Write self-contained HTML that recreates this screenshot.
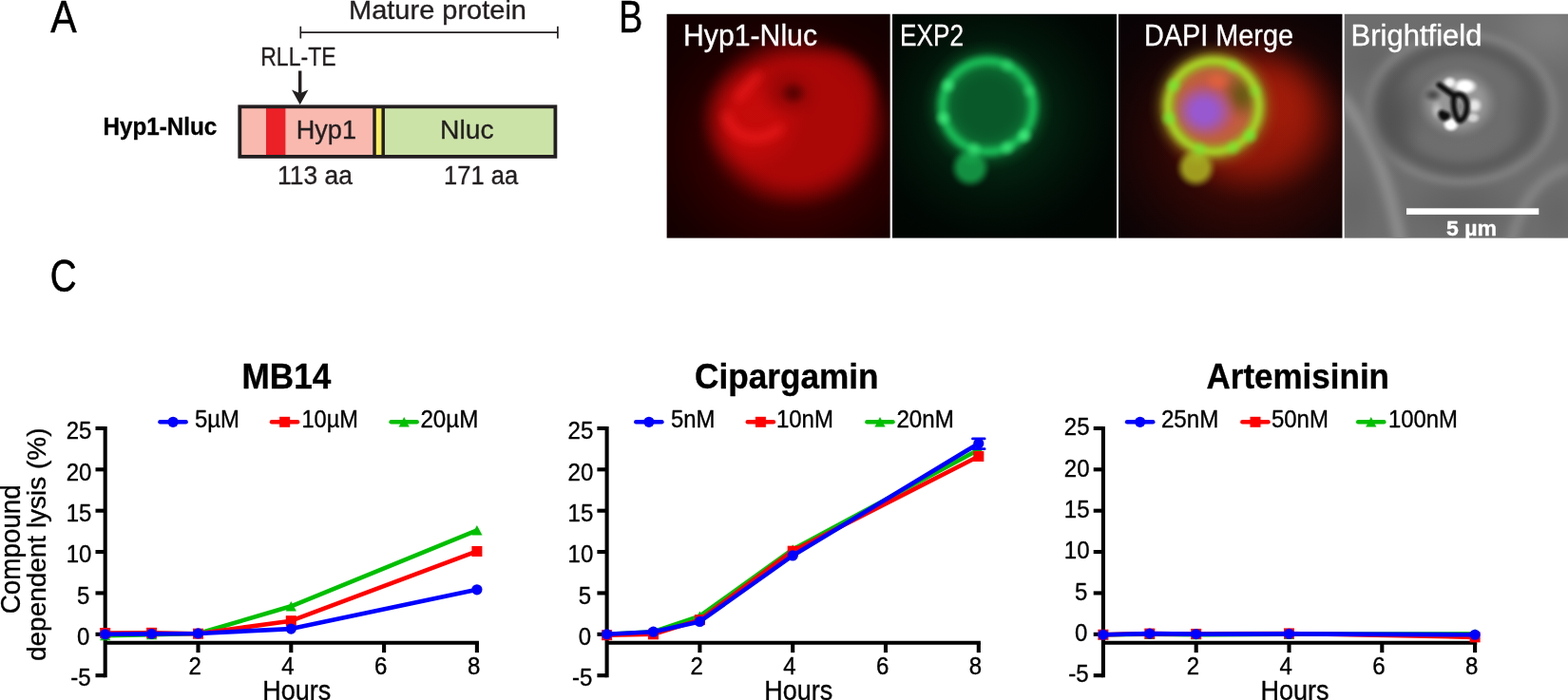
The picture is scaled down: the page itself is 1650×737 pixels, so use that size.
<!DOCTYPE html>
<html lang="en">
<head>
<meta charset="utf-8">
<title>Hyp1-Nluc lysis assay figure</title>
<style>
html,body{margin:0;padding:0;background:#fff;}
body{width:1650px;height:737px;overflow:hidden;}
svg{display:block;font-family:"Liberation Sans", sans-serif;}
text{white-space:pre;}
</style>
</head>
<body>
<svg width="1650" height="737" viewBox="0 0 1650 737">
<defs>
<filter id="b3" x="-50%" y="-50%" width="200%" height="200%"><feGaussianBlur stdDeviation="3"/></filter>
<filter id="b2" x="-50%" y="-50%" width="200%" height="200%"><feGaussianBlur stdDeviation="2"/></filter>
<filter id="b15" x="-50%" y="-50%" width="200%" height="200%"><feGaussianBlur stdDeviation="1.5"/></filter>
<filter id="b1" x="-50%" y="-50%" width="200%" height="200%"><feGaussianBlur stdDeviation="1.2"/></filter>
<filter id="b5" x="-50%" y="-50%" width="200%" height="200%"><feGaussianBlur stdDeviation="5"/></filter>
<filter id="b8" x="-50%" y="-50%" width="200%" height="200%"><feGaussianBlur stdDeviation="8"/></filter>
<filter id="b12" x="-50%" y="-50%" width="200%" height="200%"><feGaussianBlur stdDeviation="12"/></filter>
<filter id="b18" x="-50%" y="-50%" width="200%" height="200%"><feGaussianBlur stdDeviation="18"/></filter>
<clipPath id="cp0"><rect x="701.4" y="14.6" width="235.39999999999998" height="236.20000000000002"/></clipPath>
<clipPath id="cp1"><rect x="939.0" y="14.6" width="236.0" height="236.20000000000002"/></clipPath>
<clipPath id="cp2"><rect x="1177.0" y="14.6" width="235.70000000000005" height="236.20000000000002"/></clipPath>
<clipPath id="cp3"><rect x="1414.5" y="14.6" width="235.5" height="236.20000000000002"/></clipPath>
<radialGradient id="g1" gradientUnits="userSpaceOnUse" cx="0" cy="0" r="1" gradientTransform="translate(834 152) scale(180 165)"><stop offset="0.000" stop-color="rgb(120,0,0)" stop-opacity="0.580"/><stop offset="0.083" stop-color="rgb(120,0,0)" stop-opacity="0.569"/><stop offset="0.167" stop-color="rgb(120,0,0)" stop-opacity="0.537"/><stop offset="0.250" stop-color="rgb(120,0,0)" stop-opacity="0.489"/><stop offset="0.333" stop-color="rgb(120,0,0)" stop-opacity="0.430"/><stop offset="0.417" stop-color="rgb(120,0,0)" stop-opacity="0.362"/><stop offset="0.500" stop-color="rgb(120,0,0)" stop-opacity="0.290"/><stop offset="0.583" stop-color="rgb(120,0,0)" stop-opacity="0.218"/><stop offset="0.667" stop-color="rgb(120,0,0)" stop-opacity="0.150"/><stop offset="0.750" stop-color="rgb(120,0,0)" stop-opacity="0.091"/><stop offset="0.833" stop-color="rgb(120,0,0)" stop-opacity="0.043"/><stop offset="0.917" stop-color="rgb(120,0,0)" stop-opacity="0.011"/><stop offset="1.000" stop-color="rgb(120,0,0)" stop-opacity="0.000"/></radialGradient>
<radialGradient id="g2" gradientUnits="userSpaceOnUse" cx="0" cy="0" r="1" gradientTransform="translate(837 128) scale(106 99)"><stop offset="0.000" stop-color="rgb(170,7,7)" stop-opacity="1.000"/><stop offset="0.580" stop-color="rgb(170,7,7)" stop-opacity="1.000"/><stop offset="0.615" stop-color="rgb(170,7,7)" stop-opacity="0.980"/><stop offset="0.650" stop-color="rgb(170,7,7)" stop-opacity="0.926"/><stop offset="0.685" stop-color="rgb(170,7,7)" stop-opacity="0.844"/><stop offset="0.720" stop-color="rgb(170,7,7)" stop-opacity="0.741"/><stop offset="0.755" stop-color="rgb(170,7,7)" stop-opacity="0.624"/><stop offset="0.790" stop-color="rgb(170,7,7)" stop-opacity="0.500"/><stop offset="0.825" stop-color="rgb(170,7,7)" stop-opacity="0.376"/><stop offset="0.860" stop-color="rgb(170,7,7)" stop-opacity="0.259"/><stop offset="0.895" stop-color="rgb(170,7,7)" stop-opacity="0.156"/><stop offset="0.930" stop-color="rgb(170,7,7)" stop-opacity="0.074"/><stop offset="0.965" stop-color="rgb(170,7,7)" stop-opacity="0.020"/><stop offset="1.000" stop-color="rgb(170,7,7)" stop-opacity="0.000"/></radialGradient>
<radialGradient id="g3" gradientUnits="userSpaceOnUse" cx="0" cy="0" r="1" gradientTransform="translate(876 97) scale(55 55)"><stop offset="0.000" stop-color="rgb(170,7,7)" stop-opacity="0.800"/><stop offset="0.450" stop-color="rgb(170,7,7)" stop-opacity="0.800"/><stop offset="0.496" stop-color="rgb(170,7,7)" stop-opacity="0.784"/><stop offset="0.542" stop-color="rgb(170,7,7)" stop-opacity="0.741"/><stop offset="0.588" stop-color="rgb(170,7,7)" stop-opacity="0.675"/><stop offset="0.633" stop-color="rgb(170,7,7)" stop-opacity="0.593"/><stop offset="0.679" stop-color="rgb(170,7,7)" stop-opacity="0.499"/><stop offset="0.725" stop-color="rgb(170,7,7)" stop-opacity="0.400"/><stop offset="0.771" stop-color="rgb(170,7,7)" stop-opacity="0.301"/><stop offset="0.817" stop-color="rgb(170,7,7)" stop-opacity="0.207"/><stop offset="0.863" stop-color="rgb(170,7,7)" stop-opacity="0.125"/><stop offset="0.908" stop-color="rgb(170,7,7)" stop-opacity="0.059"/><stop offset="0.954" stop-color="rgb(170,7,7)" stop-opacity="0.016"/><stop offset="1.000" stop-color="rgb(170,7,7)" stop-opacity="0.000"/></radialGradient>
<radialGradient id="g4" gradientUnits="userSpaceOnUse" cx="0" cy="0" r="1" gradientTransform="translate(792 124) scale(62 64)"><stop offset="0.000" stop-color="rgb(225,14,14)" stop-opacity="0.500"/><stop offset="0.300" stop-color="rgb(225,14,14)" stop-opacity="0.500"/><stop offset="0.358" stop-color="rgb(225,14,14)" stop-opacity="0.490"/><stop offset="0.417" stop-color="rgb(225,14,14)" stop-opacity="0.463"/><stop offset="0.475" stop-color="rgb(225,14,14)" stop-opacity="0.422"/><stop offset="0.533" stop-color="rgb(225,14,14)" stop-opacity="0.370"/><stop offset="0.592" stop-color="rgb(225,14,14)" stop-opacity="0.312"/><stop offset="0.650" stop-color="rgb(225,14,14)" stop-opacity="0.250"/><stop offset="0.708" stop-color="rgb(225,14,14)" stop-opacity="0.188"/><stop offset="0.767" stop-color="rgb(225,14,14)" stop-opacity="0.130"/><stop offset="0.825" stop-color="rgb(225,14,14)" stop-opacity="0.078"/><stop offset="0.883" stop-color="rgb(225,14,14)" stop-opacity="0.037"/><stop offset="0.942" stop-color="rgb(225,14,14)" stop-opacity="0.010"/><stop offset="1.000" stop-color="rgb(225,14,14)" stop-opacity="0.000"/></radialGradient>
<radialGradient id="g5" gradientUnits="userSpaceOnUse" cx="0" cy="0" r="1" gradientTransform="translate(829 98) scale(38 32)"><stop offset="0.000" stop-color="rgb(120,2,2)" stop-opacity="0.600"/><stop offset="0.083" stop-color="rgb(120,2,2)" stop-opacity="0.588"/><stop offset="0.167" stop-color="rgb(120,2,2)" stop-opacity="0.556"/><stop offset="0.250" stop-color="rgb(120,2,2)" stop-opacity="0.506"/><stop offset="0.333" stop-color="rgb(120,2,2)" stop-opacity="0.444"/><stop offset="0.417" stop-color="rgb(120,2,2)" stop-opacity="0.374"/><stop offset="0.500" stop-color="rgb(120,2,2)" stop-opacity="0.300"/><stop offset="0.583" stop-color="rgb(120,2,2)" stop-opacity="0.226"/><stop offset="0.667" stop-color="rgb(120,2,2)" stop-opacity="0.156"/><stop offset="0.750" stop-color="rgb(120,2,2)" stop-opacity="0.094"/><stop offset="0.833" stop-color="rgb(120,2,2)" stop-opacity="0.044"/><stop offset="0.917" stop-color="rgb(120,2,2)" stop-opacity="0.012"/><stop offset="1.000" stop-color="rgb(120,2,2)" stop-opacity="0.000"/></radialGradient>
<radialGradient id="g6" gradientUnits="userSpaceOnUse" cx="0" cy="0" r="1" gradientTransform="translate(835 98) scale(17 15)"><stop offset="0.000" stop-color="rgb(60,0,0)" stop-opacity="0.620"/><stop offset="0.083" stop-color="rgb(60,0,0)" stop-opacity="0.608"/><stop offset="0.167" stop-color="rgb(60,0,0)" stop-opacity="0.574"/><stop offset="0.250" stop-color="rgb(60,0,0)" stop-opacity="0.523"/><stop offset="0.333" stop-color="rgb(60,0,0)" stop-opacity="0.459"/><stop offset="0.417" stop-color="rgb(60,0,0)" stop-opacity="0.387"/><stop offset="0.500" stop-color="rgb(60,0,0)" stop-opacity="0.310"/><stop offset="0.583" stop-color="rgb(60,0,0)" stop-opacity="0.233"/><stop offset="0.667" stop-color="rgb(60,0,0)" stop-opacity="0.161"/><stop offset="0.750" stop-color="rgb(60,0,0)" stop-opacity="0.097"/><stop offset="0.833" stop-color="rgb(60,0,0)" stop-opacity="0.046"/><stop offset="0.917" stop-color="rgb(60,0,0)" stop-opacity="0.012"/><stop offset="1.000" stop-color="rgb(60,0,0)" stop-opacity="0.000"/></radialGradient>
<radialGradient id="g7" gradientUnits="userSpaceOnUse" cx="0" cy="0" r="1" gradientTransform="translate(1046 120) scale(150 150)"><stop offset="0.000" stop-color="rgb(5,62,28)" stop-opacity="0.700"/><stop offset="0.083" stop-color="rgb(5,62,28)" stop-opacity="0.686"/><stop offset="0.167" stop-color="rgb(5,62,28)" stop-opacity="0.648"/><stop offset="0.250" stop-color="rgb(5,62,28)" stop-opacity="0.591"/><stop offset="0.333" stop-color="rgb(5,62,28)" stop-opacity="0.519"/><stop offset="0.417" stop-color="rgb(5,62,28)" stop-opacity="0.437"/><stop offset="0.500" stop-color="rgb(5,62,28)" stop-opacity="0.350"/><stop offset="0.583" stop-color="rgb(5,62,28)" stop-opacity="0.263"/><stop offset="0.667" stop-color="rgb(5,62,28)" stop-opacity="0.181"/><stop offset="0.750" stop-color="rgb(5,62,28)" stop-opacity="0.109"/><stop offset="0.833" stop-color="rgb(5,62,28)" stop-opacity="0.052"/><stop offset="0.917" stop-color="rgb(5,62,28)" stop-opacity="0.014"/><stop offset="1.000" stop-color="rgb(5,62,28)" stop-opacity="0.000"/></radialGradient>
<radialGradient id="g8" gradientUnits="userSpaceOnUse" cx="0" cy="0" r="1" gradientTransform="translate(1039.5 111.8) scale(58 58)"><stop offset="0.000" stop-color="rgb(9,88,41)" stop-opacity="1.000"/><stop offset="0.700" stop-color="rgb(9,88,41)" stop-opacity="1.000"/><stop offset="0.725" stop-color="rgb(9,88,41)" stop-opacity="0.980"/><stop offset="0.750" stop-color="rgb(9,88,41)" stop-opacity="0.926"/><stop offset="0.775" stop-color="rgb(9,88,41)" stop-opacity="0.844"/><stop offset="0.800" stop-color="rgb(9,88,41)" stop-opacity="0.741"/><stop offset="0.825" stop-color="rgb(9,88,41)" stop-opacity="0.624"/><stop offset="0.850" stop-color="rgb(9,88,41)" stop-opacity="0.500"/><stop offset="0.875" stop-color="rgb(9,88,41)" stop-opacity="0.376"/><stop offset="0.900" stop-color="rgb(9,88,41)" stop-opacity="0.259"/><stop offset="0.925" stop-color="rgb(9,88,41)" stop-opacity="0.156"/><stop offset="0.950" stop-color="rgb(9,88,41)" stop-opacity="0.074"/><stop offset="0.975" stop-color="rgb(9,88,41)" stop-opacity="0.020"/><stop offset="1.000" stop-color="rgb(9,88,41)" stop-opacity="0.000"/></radialGradient>
<radialGradient id="g9" gradientUnits="userSpaceOnUse" cx="0" cy="0" r="1" gradientTransform="translate(1021 176.5) scale(23 23)"><stop offset="0.000" stop-color="rgb(20,150,68)" stop-opacity="0.950"/><stop offset="0.450" stop-color="rgb(20,150,68)" stop-opacity="0.950"/><stop offset="0.496" stop-color="rgb(20,150,68)" stop-opacity="0.931"/><stop offset="0.542" stop-color="rgb(20,150,68)" stop-opacity="0.880"/><stop offset="0.588" stop-color="rgb(20,150,68)" stop-opacity="0.802"/><stop offset="0.633" stop-color="rgb(20,150,68)" stop-opacity="0.704"/><stop offset="0.679" stop-color="rgb(20,150,68)" stop-opacity="0.593"/><stop offset="0.725" stop-color="rgb(20,150,68)" stop-opacity="0.475"/><stop offset="0.771" stop-color="rgb(20,150,68)" stop-opacity="0.357"/><stop offset="0.817" stop-color="rgb(20,150,68)" stop-opacity="0.246"/><stop offset="0.863" stop-color="rgb(20,150,68)" stop-opacity="0.148"/><stop offset="0.908" stop-color="rgb(20,150,68)" stop-opacity="0.070"/><stop offset="0.954" stop-color="rgb(20,150,68)" stop-opacity="0.019"/><stop offset="1.000" stop-color="rgb(20,150,68)" stop-opacity="0.000"/></radialGradient>
<radialGradient id="g10" gradientUnits="userSpaceOnUse" cx="0" cy="0" r="1" gradientTransform="translate(1039.5 111.8) scale(80 80)"><stop offset="0.000" stop-color="rgb(16,140,62)" stop-opacity="0.000"/><stop offset="0.318" stop-color="rgb(16,140,62)" stop-opacity="0.000"/><stop offset="0.345" stop-color="rgb(16,140,62)" stop-opacity="0.036"/><stop offset="0.373" stop-color="rgb(16,140,62)" stop-opacity="0.063"/><stop offset="0.400" stop-color="rgb(16,140,62)" stop-opacity="0.105"/><stop offset="0.428" stop-color="rgb(16,140,62)" stop-opacity="0.163"/><stop offset="0.456" stop-color="rgb(16,140,62)" stop-opacity="0.236"/><stop offset="0.483" stop-color="rgb(16,140,62)" stop-opacity="0.320"/><stop offset="0.511" stop-color="rgb(16,140,62)" stop-opacity="0.406"/><stop offset="0.538" stop-color="rgb(16,140,62)" stop-opacity="0.480"/><stop offset="0.566" stop-color="rgb(16,140,62)" stop-opacity="0.532"/><stop offset="0.594" stop-color="rgb(16,140,62)" stop-opacity="0.550"/><stop offset="0.621" stop-color="rgb(16,140,62)" stop-opacity="0.532"/><stop offset="0.649" stop-color="rgb(16,140,62)" stop-opacity="0.480"/><stop offset="0.677" stop-color="rgb(16,140,62)" stop-opacity="0.406"/><stop offset="0.704" stop-color="rgb(16,140,62)" stop-opacity="0.320"/><stop offset="0.732" stop-color="rgb(16,140,62)" stop-opacity="0.236"/><stop offset="0.760" stop-color="rgb(16,140,62)" stop-opacity="0.163"/><stop offset="0.787" stop-color="rgb(16,140,62)" stop-opacity="0.105"/><stop offset="0.815" stop-color="rgb(16,140,62)" stop-opacity="0.063"/><stop offset="0.842" stop-color="rgb(16,140,62)" stop-opacity="0.036"/><stop offset="0.870" stop-color="rgb(16,140,62)" stop-opacity="0.000"/></radialGradient>
<radialGradient id="g11" gradientUnits="userSpaceOnUse" cx="0" cy="0" r="1" gradientTransform="translate(1022 165) scale(15 13)"><stop offset="0.000" stop-color="rgb(22,165,75)" stop-opacity="0.800"/><stop offset="0.083" stop-color="rgb(22,165,75)" stop-opacity="0.784"/><stop offset="0.167" stop-color="rgb(22,165,75)" stop-opacity="0.741"/><stop offset="0.250" stop-color="rgb(22,165,75)" stop-opacity="0.675"/><stop offset="0.333" stop-color="rgb(22,165,75)" stop-opacity="0.593"/><stop offset="0.417" stop-color="rgb(22,165,75)" stop-opacity="0.499"/><stop offset="0.500" stop-color="rgb(22,165,75)" stop-opacity="0.400"/><stop offset="0.583" stop-color="rgb(22,165,75)" stop-opacity="0.301"/><stop offset="0.667" stop-color="rgb(22,165,75)" stop-opacity="0.207"/><stop offset="0.750" stop-color="rgb(22,165,75)" stop-opacity="0.125"/><stop offset="0.833" stop-color="rgb(22,165,75)" stop-opacity="0.059"/><stop offset="0.917" stop-color="rgb(22,165,75)" stop-opacity="0.016"/><stop offset="1.000" stop-color="rgb(22,165,75)" stop-opacity="0.000"/></radialGradient>
<radialGradient id="g12" gradientUnits="userSpaceOnUse" cx="0" cy="0" r="1" gradientTransform="translate(1039.5 111.8) scale(70 70)"><stop offset="0.000" stop-color="rgb(24,178,82)" stop-opacity="0.000"/><stop offset="0.530" stop-color="rgb(24,178,82)" stop-opacity="0.000"/><stop offset="0.545" stop-color="rgb(24,178,82)" stop-opacity="0.065"/><stop offset="0.560" stop-color="rgb(24,178,82)" stop-opacity="0.115"/><stop offset="0.575" stop-color="rgb(24,178,82)" stop-opacity="0.191"/><stop offset="0.589" stop-color="rgb(24,178,82)" stop-opacity="0.296"/><stop offset="0.604" stop-color="rgb(24,178,82)" stop-opacity="0.430"/><stop offset="0.619" stop-color="rgb(24,178,82)" stop-opacity="0.582"/><stop offset="0.634" stop-color="rgb(24,178,82)" stop-opacity="0.738"/><stop offset="0.649" stop-color="rgb(24,178,82)" stop-opacity="0.874"/><stop offset="0.664" stop-color="rgb(24,178,82)" stop-opacity="0.967"/><stop offset="0.679" stop-color="rgb(24,178,82)" stop-opacity="1.000"/><stop offset="0.693" stop-color="rgb(24,178,82)" stop-opacity="0.967"/><stop offset="0.708" stop-color="rgb(24,178,82)" stop-opacity="0.874"/><stop offset="0.723" stop-color="rgb(24,178,82)" stop-opacity="0.738"/><stop offset="0.738" stop-color="rgb(24,178,82)" stop-opacity="0.582"/><stop offset="0.753" stop-color="rgb(24,178,82)" stop-opacity="0.430"/><stop offset="0.768" stop-color="rgb(24,178,82)" stop-opacity="0.296"/><stop offset="0.783" stop-color="rgb(24,178,82)" stop-opacity="0.191"/><stop offset="0.797" stop-color="rgb(24,178,82)" stop-opacity="0.115"/><stop offset="0.812" stop-color="rgb(24,178,82)" stop-opacity="0.065"/><stop offset="0.827" stop-color="rgb(24,178,82)" stop-opacity="0.000"/></radialGradient>
<radialGradient id="g13" gradientUnits="userSpaceOnUse" cx="0" cy="0" r="1" gradientTransform="translate(997.5 90) scale(11 11)"><stop offset="0.000" stop-color="rgb(70,245,130)" stop-opacity="0.650"/><stop offset="0.083" stop-color="rgb(70,245,130)" stop-opacity="0.637"/><stop offset="0.167" stop-color="rgb(70,245,130)" stop-opacity="0.602"/><stop offset="0.250" stop-color="rgb(70,245,130)" stop-opacity="0.548"/><stop offset="0.333" stop-color="rgb(70,245,130)" stop-opacity="0.481"/><stop offset="0.417" stop-color="rgb(70,245,130)" stop-opacity="0.405"/><stop offset="0.500" stop-color="rgb(70,245,130)" stop-opacity="0.325"/><stop offset="0.583" stop-color="rgb(70,245,130)" stop-opacity="0.245"/><stop offset="0.667" stop-color="rgb(70,245,130)" stop-opacity="0.169"/><stop offset="0.750" stop-color="rgb(70,245,130)" stop-opacity="0.102"/><stop offset="0.833" stop-color="rgb(70,245,130)" stop-opacity="0.048"/><stop offset="0.917" stop-color="rgb(70,245,130)" stop-opacity="0.013"/><stop offset="1.000" stop-color="rgb(70,245,130)" stop-opacity="0.000"/></radialGradient>
<radialGradient id="g14" gradientUnits="userSpaceOnUse" cx="0" cy="0" r="1" gradientTransform="translate(992.5 124.5) scale(11 11)"><stop offset="0.000" stop-color="rgb(70,245,130)" stop-opacity="0.650"/><stop offset="0.083" stop-color="rgb(70,245,130)" stop-opacity="0.637"/><stop offset="0.167" stop-color="rgb(70,245,130)" stop-opacity="0.602"/><stop offset="0.250" stop-color="rgb(70,245,130)" stop-opacity="0.548"/><stop offset="0.333" stop-color="rgb(70,245,130)" stop-opacity="0.481"/><stop offset="0.417" stop-color="rgb(70,245,130)" stop-opacity="0.405"/><stop offset="0.500" stop-color="rgb(70,245,130)" stop-opacity="0.325"/><stop offset="0.583" stop-color="rgb(70,245,130)" stop-opacity="0.245"/><stop offset="0.667" stop-color="rgb(70,245,130)" stop-opacity="0.169"/><stop offset="0.750" stop-color="rgb(70,245,130)" stop-opacity="0.102"/><stop offset="0.833" stop-color="rgb(70,245,130)" stop-opacity="0.048"/><stop offset="0.917" stop-color="rgb(70,245,130)" stop-opacity="0.013"/><stop offset="1.000" stop-color="rgb(70,245,130)" stop-opacity="0.000"/></radialGradient>
<radialGradient id="g15" gradientUnits="userSpaceOnUse" cx="0" cy="0" r="1" gradientTransform="translate(1078 143) scale(11 11)"><stop offset="0.000" stop-color="rgb(70,245,130)" stop-opacity="0.750"/><stop offset="0.083" stop-color="rgb(70,245,130)" stop-opacity="0.735"/><stop offset="0.167" stop-color="rgb(70,245,130)" stop-opacity="0.694"/><stop offset="0.250" stop-color="rgb(70,245,130)" stop-opacity="0.633"/><stop offset="0.333" stop-color="rgb(70,245,130)" stop-opacity="0.556"/><stop offset="0.417" stop-color="rgb(70,245,130)" stop-opacity="0.468"/><stop offset="0.500" stop-color="rgb(70,245,130)" stop-opacity="0.375"/><stop offset="0.583" stop-color="rgb(70,245,130)" stop-opacity="0.282"/><stop offset="0.667" stop-color="rgb(70,245,130)" stop-opacity="0.194"/><stop offset="0.750" stop-color="rgb(70,245,130)" stop-opacity="0.117"/><stop offset="0.833" stop-color="rgb(70,245,130)" stop-opacity="0.056"/><stop offset="0.917" stop-color="rgb(70,245,130)" stop-opacity="0.015"/><stop offset="1.000" stop-color="rgb(70,245,130)" stop-opacity="0.000"/></radialGradient>
<radialGradient id="g16" gradientUnits="userSpaceOnUse" cx="0" cy="0" r="1" gradientTransform="translate(1060 155.5) scale(11 11)"><stop offset="0.000" stop-color="rgb(70,245,130)" stop-opacity="0.550"/><stop offset="0.083" stop-color="rgb(70,245,130)" stop-opacity="0.539"/><stop offset="0.167" stop-color="rgb(70,245,130)" stop-opacity="0.509"/><stop offset="0.250" stop-color="rgb(70,245,130)" stop-opacity="0.464"/><stop offset="0.333" stop-color="rgb(70,245,130)" stop-opacity="0.407"/><stop offset="0.417" stop-color="rgb(70,245,130)" stop-opacity="0.343"/><stop offset="0.500" stop-color="rgb(70,245,130)" stop-opacity="0.275"/><stop offset="0.583" stop-color="rgb(70,245,130)" stop-opacity="0.207"/><stop offset="0.667" stop-color="rgb(70,245,130)" stop-opacity="0.143"/><stop offset="0.750" stop-color="rgb(70,245,130)" stop-opacity="0.086"/><stop offset="0.833" stop-color="rgb(70,245,130)" stop-opacity="0.041"/><stop offset="0.917" stop-color="rgb(70,245,130)" stop-opacity="0.011"/><stop offset="1.000" stop-color="rgb(70,245,130)" stop-opacity="0.000"/></radialGradient>
<radialGradient id="g17" gradientUnits="userSpaceOnUse" cx="0" cy="0" r="1" gradientTransform="translate(1025 157) scale(11 11)"><stop offset="0.000" stop-color="rgb(70,245,130)" stop-opacity="0.500"/><stop offset="0.083" stop-color="rgb(70,245,130)" stop-opacity="0.490"/><stop offset="0.167" stop-color="rgb(70,245,130)" stop-opacity="0.463"/><stop offset="0.250" stop-color="rgb(70,245,130)" stop-opacity="0.422"/><stop offset="0.333" stop-color="rgb(70,245,130)" stop-opacity="0.370"/><stop offset="0.417" stop-color="rgb(70,245,130)" stop-opacity="0.312"/><stop offset="0.500" stop-color="rgb(70,245,130)" stop-opacity="0.250"/><stop offset="0.583" stop-color="rgb(70,245,130)" stop-opacity="0.188"/><stop offset="0.667" stop-color="rgb(70,245,130)" stop-opacity="0.130"/><stop offset="0.750" stop-color="rgb(70,245,130)" stop-opacity="0.078"/><stop offset="0.833" stop-color="rgb(70,245,130)" stop-opacity="0.037"/><stop offset="0.917" stop-color="rgb(70,245,130)" stop-opacity="0.010"/><stop offset="1.000" stop-color="rgb(70,245,130)" stop-opacity="0.000"/></radialGradient>
<radialGradient id="g18" gradientUnits="userSpaceOnUse" cx="0" cy="0" r="1" gradientTransform="translate(1060 69) scale(11 11)"><stop offset="0.000" stop-color="rgb(70,245,130)" stop-opacity="0.350"/><stop offset="0.083" stop-color="rgb(70,245,130)" stop-opacity="0.343"/><stop offset="0.167" stop-color="rgb(70,245,130)" stop-opacity="0.324"/><stop offset="0.250" stop-color="rgb(70,245,130)" stop-opacity="0.295"/><stop offset="0.333" stop-color="rgb(70,245,130)" stop-opacity="0.259"/><stop offset="0.417" stop-color="rgb(70,245,130)" stop-opacity="0.218"/><stop offset="0.500" stop-color="rgb(70,245,130)" stop-opacity="0.175"/><stop offset="0.583" stop-color="rgb(70,245,130)" stop-opacity="0.132"/><stop offset="0.667" stop-color="rgb(70,245,130)" stop-opacity="0.091"/><stop offset="0.750" stop-color="rgb(70,245,130)" stop-opacity="0.055"/><stop offset="0.833" stop-color="rgb(70,245,130)" stop-opacity="0.026"/><stop offset="0.917" stop-color="rgb(70,245,130)" stop-opacity="0.007"/><stop offset="1.000" stop-color="rgb(70,245,130)" stop-opacity="0.000"/></radialGradient>
<radialGradient id="g19" gradientUnits="userSpaceOnUse" cx="0" cy="0" r="1" gradientTransform="translate(1083 96) scale(10 10)"><stop offset="0.000" stop-color="rgb(70,245,130)" stop-opacity="0.350"/><stop offset="0.083" stop-color="rgb(70,245,130)" stop-opacity="0.343"/><stop offset="0.167" stop-color="rgb(70,245,130)" stop-opacity="0.324"/><stop offset="0.250" stop-color="rgb(70,245,130)" stop-opacity="0.295"/><stop offset="0.333" stop-color="rgb(70,245,130)" stop-opacity="0.259"/><stop offset="0.417" stop-color="rgb(70,245,130)" stop-opacity="0.218"/><stop offset="0.500" stop-color="rgb(70,245,130)" stop-opacity="0.175"/><stop offset="0.583" stop-color="rgb(70,245,130)" stop-opacity="0.132"/><stop offset="0.667" stop-color="rgb(70,245,130)" stop-opacity="0.091"/><stop offset="0.750" stop-color="rgb(70,245,130)" stop-opacity="0.055"/><stop offset="0.833" stop-color="rgb(70,245,130)" stop-opacity="0.026"/><stop offset="0.917" stop-color="rgb(70,245,130)" stop-opacity="0.007"/><stop offset="1.000" stop-color="rgb(70,245,130)" stop-opacity="0.000"/></radialGradient>
<radialGradient id="g20" gradientUnits="userSpaceOnUse" cx="0" cy="0" r="1" gradientTransform="translate(1312 150) scale(185 170)"><stop offset="0.000" stop-color="rgb(105,14,4)" stop-opacity="0.620"/><stop offset="0.083" stop-color="rgb(105,14,4)" stop-opacity="0.608"/><stop offset="0.167" stop-color="rgb(105,14,4)" stop-opacity="0.574"/><stop offset="0.250" stop-color="rgb(105,14,4)" stop-opacity="0.523"/><stop offset="0.333" stop-color="rgb(105,14,4)" stop-opacity="0.459"/><stop offset="0.417" stop-color="rgb(105,14,4)" stop-opacity="0.387"/><stop offset="0.500" stop-color="rgb(105,14,4)" stop-opacity="0.310"/><stop offset="0.583" stop-color="rgb(105,14,4)" stop-opacity="0.233"/><stop offset="0.667" stop-color="rgb(105,14,4)" stop-opacity="0.161"/><stop offset="0.750" stop-color="rgb(105,14,4)" stop-opacity="0.097"/><stop offset="0.833" stop-color="rgb(105,14,4)" stop-opacity="0.046"/><stop offset="0.917" stop-color="rgb(105,14,4)" stop-opacity="0.012"/><stop offset="1.000" stop-color="rgb(105,14,4)" stop-opacity="0.000"/></radialGradient>
<radialGradient id="g21" gradientUnits="userSpaceOnUse" cx="0" cy="0" r="1" gradientTransform="translate(1318 124) scale(106 94)"><stop offset="0.000" stop-color="rgb(150,24,9)" stop-opacity="0.920"/><stop offset="0.400" stop-color="rgb(150,24,9)" stop-opacity="0.920"/><stop offset="0.450" stop-color="rgb(150,24,9)" stop-opacity="0.902"/><stop offset="0.500" stop-color="rgb(150,24,9)" stop-opacity="0.852"/><stop offset="0.550" stop-color="rgb(150,24,9)" stop-opacity="0.776"/><stop offset="0.600" stop-color="rgb(150,24,9)" stop-opacity="0.681"/><stop offset="0.650" stop-color="rgb(150,24,9)" stop-opacity="0.574"/><stop offset="0.700" stop-color="rgb(150,24,9)" stop-opacity="0.460"/><stop offset="0.750" stop-color="rgb(150,24,9)" stop-opacity="0.346"/><stop offset="0.800" stop-color="rgb(150,24,9)" stop-opacity="0.239"/><stop offset="0.850" stop-color="rgb(150,24,9)" stop-opacity="0.144"/><stop offset="0.900" stop-color="rgb(150,24,9)" stop-opacity="0.068"/><stop offset="0.950" stop-color="rgb(150,24,9)" stop-opacity="0.018"/><stop offset="1.000" stop-color="rgb(150,24,9)" stop-opacity="0.000"/></radialGradient>
<radialGradient id="g22" gradientUnits="userSpaceOnUse" cx="0" cy="0" r="1" gradientTransform="translate(1345 112) scale(50 58)"><stop offset="0.000" stop-color="rgb(185,34,10)" stop-opacity="0.400"/><stop offset="0.083" stop-color="rgb(185,34,10)" stop-opacity="0.392"/><stop offset="0.167" stop-color="rgb(185,34,10)" stop-opacity="0.370"/><stop offset="0.250" stop-color="rgb(185,34,10)" stop-opacity="0.338"/><stop offset="0.333" stop-color="rgb(185,34,10)" stop-opacity="0.296"/><stop offset="0.417" stop-color="rgb(185,34,10)" stop-opacity="0.250"/><stop offset="0.500" stop-color="rgb(185,34,10)" stop-opacity="0.200"/><stop offset="0.583" stop-color="rgb(185,34,10)" stop-opacity="0.150"/><stop offset="0.667" stop-color="rgb(185,34,10)" stop-opacity="0.104"/><stop offset="0.750" stop-color="rgb(185,34,10)" stop-opacity="0.062"/><stop offset="0.833" stop-color="rgb(185,34,10)" stop-opacity="0.030"/><stop offset="0.917" stop-color="rgb(185,34,10)" stop-opacity="0.008"/><stop offset="1.000" stop-color="rgb(185,34,10)" stop-opacity="0.000"/></radialGradient>
<radialGradient id="g23" gradientUnits="userSpaceOnUse" cx="0" cy="0" r="1" gradientTransform="translate(1277 111.8) scale(66 66)"><stop offset="0.000" stop-color="rgb(150,120,30)" stop-opacity="0.600"/><stop offset="0.600" stop-color="rgb(150,120,30)" stop-opacity="0.600"/><stop offset="0.633" stop-color="rgb(150,120,30)" stop-opacity="0.588"/><stop offset="0.667" stop-color="rgb(150,120,30)" stop-opacity="0.556"/><stop offset="0.700" stop-color="rgb(150,120,30)" stop-opacity="0.506"/><stop offset="0.733" stop-color="rgb(150,120,30)" stop-opacity="0.444"/><stop offset="0.767" stop-color="rgb(150,120,30)" stop-opacity="0.374"/><stop offset="0.800" stop-color="rgb(150,120,30)" stop-opacity="0.300"/><stop offset="0.833" stop-color="rgb(150,120,30)" stop-opacity="0.226"/><stop offset="0.867" stop-color="rgb(150,120,30)" stop-opacity="0.156"/><stop offset="0.900" stop-color="rgb(150,120,30)" stop-opacity="0.094"/><stop offset="0.933" stop-color="rgb(150,120,30)" stop-opacity="0.044"/><stop offset="0.967" stop-color="rgb(150,120,30)" stop-opacity="0.012"/><stop offset="1.000" stop-color="rgb(150,120,30)" stop-opacity="0.000"/></radialGradient>
<radialGradient id="g24" gradientUnits="userSpaceOnUse" cx="0" cy="0" r="1" gradientTransform="translate(1277 111.8) scale(52 52)"><stop offset="0.000" stop-color="rgb(196,88,64)" stop-opacity="1.000"/><stop offset="0.750" stop-color="rgb(196,88,64)" stop-opacity="1.000"/><stop offset="0.771" stop-color="rgb(196,88,64)" stop-opacity="0.980"/><stop offset="0.792" stop-color="rgb(196,88,64)" stop-opacity="0.926"/><stop offset="0.812" stop-color="rgb(196,88,64)" stop-opacity="0.844"/><stop offset="0.833" stop-color="rgb(196,88,64)" stop-opacity="0.741"/><stop offset="0.854" stop-color="rgb(196,88,64)" stop-opacity="0.624"/><stop offset="0.875" stop-color="rgb(196,88,64)" stop-opacity="0.500"/><stop offset="0.896" stop-color="rgb(196,88,64)" stop-opacity="0.376"/><stop offset="0.917" stop-color="rgb(196,88,64)" stop-opacity="0.259"/><stop offset="0.938" stop-color="rgb(196,88,64)" stop-opacity="0.156"/><stop offset="0.958" stop-color="rgb(196,88,64)" stop-opacity="0.074"/><stop offset="0.979" stop-color="rgb(196,88,64)" stop-opacity="0.020"/><stop offset="1.000" stop-color="rgb(196,88,64)" stop-opacity="0.000"/></radialGradient>
<radialGradient id="g25" gradientUnits="userSpaceOnUse" cx="0" cy="0" r="1" gradientTransform="translate(1309 99) scale(28 32)"><stop offset="0.000" stop-color="rgb(92,80,14)" stop-opacity="0.900"/><stop offset="0.083" stop-color="rgb(92,80,14)" stop-opacity="0.882"/><stop offset="0.167" stop-color="rgb(92,80,14)" stop-opacity="0.833"/><stop offset="0.250" stop-color="rgb(92,80,14)" stop-opacity="0.759"/><stop offset="0.333" stop-color="rgb(92,80,14)" stop-opacity="0.667"/><stop offset="0.417" stop-color="rgb(92,80,14)" stop-opacity="0.561"/><stop offset="0.500" stop-color="rgb(92,80,14)" stop-opacity="0.450"/><stop offset="0.583" stop-color="rgb(92,80,14)" stop-opacity="0.339"/><stop offset="0.667" stop-color="rgb(92,80,14)" stop-opacity="0.233"/><stop offset="0.750" stop-color="rgb(92,80,14)" stop-opacity="0.141"/><stop offset="0.833" stop-color="rgb(92,80,14)" stop-opacity="0.067"/><stop offset="0.917" stop-color="rgb(92,80,14)" stop-opacity="0.018"/><stop offset="1.000" stop-color="rgb(92,80,14)" stop-opacity="0.000"/></radialGradient>
<radialGradient id="g26" gradientUnits="userSpaceOnUse" cx="0" cy="0" r="1" gradientTransform="translate(1267 117) scale(38 34)"><stop offset="0.000" stop-color="rgb(152,88,208)" stop-opacity="1.000"/><stop offset="0.200" stop-color="rgb(152,88,208)" stop-opacity="1.000"/><stop offset="0.267" stop-color="rgb(152,88,208)" stop-opacity="0.980"/><stop offset="0.333" stop-color="rgb(152,88,208)" stop-opacity="0.926"/><stop offset="0.400" stop-color="rgb(152,88,208)" stop-opacity="0.844"/><stop offset="0.467" stop-color="rgb(152,88,208)" stop-opacity="0.741"/><stop offset="0.533" stop-color="rgb(152,88,208)" stop-opacity="0.624"/><stop offset="0.600" stop-color="rgb(152,88,208)" stop-opacity="0.500"/><stop offset="0.667" stop-color="rgb(152,88,208)" stop-opacity="0.376"/><stop offset="0.733" stop-color="rgb(152,88,208)" stop-opacity="0.259"/><stop offset="0.800" stop-color="rgb(152,88,208)" stop-opacity="0.156"/><stop offset="0.867" stop-color="rgb(152,88,208)" stop-opacity="0.074"/><stop offset="0.933" stop-color="rgb(152,88,208)" stop-opacity="0.020"/><stop offset="1.000" stop-color="rgb(152,88,208)" stop-opacity="0.000"/></radialGradient>
<radialGradient id="g27" gradientUnits="userSpaceOnUse" cx="0" cy="0" r="1" gradientTransform="translate(1281 85) scale(17 14)"><stop offset="0.000" stop-color="rgb(240,100,60)" stop-opacity="0.600"/><stop offset="0.083" stop-color="rgb(240,100,60)" stop-opacity="0.588"/><stop offset="0.167" stop-color="rgb(240,100,60)" stop-opacity="0.556"/><stop offset="0.250" stop-color="rgb(240,100,60)" stop-opacity="0.506"/><stop offset="0.333" stop-color="rgb(240,100,60)" stop-opacity="0.444"/><stop offset="0.417" stop-color="rgb(240,100,60)" stop-opacity="0.374"/><stop offset="0.500" stop-color="rgb(240,100,60)" stop-opacity="0.300"/><stop offset="0.583" stop-color="rgb(240,100,60)" stop-opacity="0.226"/><stop offset="0.667" stop-color="rgb(240,100,60)" stop-opacity="0.156"/><stop offset="0.750" stop-color="rgb(240,100,60)" stop-opacity="0.094"/><stop offset="0.833" stop-color="rgb(240,100,60)" stop-opacity="0.044"/><stop offset="0.917" stop-color="rgb(240,100,60)" stop-opacity="0.012"/><stop offset="1.000" stop-color="rgb(240,100,60)" stop-opacity="0.000"/></radialGradient>
<radialGradient id="g28" gradientUnits="userSpaceOnUse" cx="0" cy="0" r="1" gradientTransform="translate(1258.5 176.5) scale(23 23)"><stop offset="0.000" stop-color="rgb(165,165,32)" stop-opacity="0.950"/><stop offset="0.450" stop-color="rgb(165,165,32)" stop-opacity="0.950"/><stop offset="0.496" stop-color="rgb(165,165,32)" stop-opacity="0.931"/><stop offset="0.542" stop-color="rgb(165,165,32)" stop-opacity="0.880"/><stop offset="0.588" stop-color="rgb(165,165,32)" stop-opacity="0.802"/><stop offset="0.633" stop-color="rgb(165,165,32)" stop-opacity="0.704"/><stop offset="0.679" stop-color="rgb(165,165,32)" stop-opacity="0.593"/><stop offset="0.725" stop-color="rgb(165,165,32)" stop-opacity="0.475"/><stop offset="0.771" stop-color="rgb(165,165,32)" stop-opacity="0.357"/><stop offset="0.817" stop-color="rgb(165,165,32)" stop-opacity="0.246"/><stop offset="0.863" stop-color="rgb(165,165,32)" stop-opacity="0.148"/><stop offset="0.908" stop-color="rgb(165,165,32)" stop-opacity="0.070"/><stop offset="0.954" stop-color="rgb(165,165,32)" stop-opacity="0.019"/><stop offset="1.000" stop-color="rgb(165,165,32)" stop-opacity="0.000"/></radialGradient>
<radialGradient id="g29" gradientUnits="userSpaceOnUse" cx="0" cy="0" r="1" gradientTransform="translate(1277 111.8) scale(80 80)"><stop offset="0.000" stop-color="rgb(150,150,30)" stop-opacity="0.000"/><stop offset="0.318" stop-color="rgb(150,150,30)" stop-opacity="0.000"/><stop offset="0.345" stop-color="rgb(150,150,30)" stop-opacity="0.032"/><stop offset="0.373" stop-color="rgb(150,150,30)" stop-opacity="0.057"/><stop offset="0.400" stop-color="rgb(150,150,30)" stop-opacity="0.095"/><stop offset="0.428" stop-color="rgb(150,150,30)" stop-opacity="0.148"/><stop offset="0.456" stop-color="rgb(150,150,30)" stop-opacity="0.215"/><stop offset="0.483" stop-color="rgb(150,150,30)" stop-opacity="0.291"/><stop offset="0.511" stop-color="rgb(150,150,30)" stop-opacity="0.369"/><stop offset="0.538" stop-color="rgb(150,150,30)" stop-opacity="0.437"/><stop offset="0.566" stop-color="rgb(150,150,30)" stop-opacity="0.483"/><stop offset="0.594" stop-color="rgb(150,150,30)" stop-opacity="0.500"/><stop offset="0.621" stop-color="rgb(150,150,30)" stop-opacity="0.483"/><stop offset="0.649" stop-color="rgb(150,150,30)" stop-opacity="0.437"/><stop offset="0.677" stop-color="rgb(150,150,30)" stop-opacity="0.369"/><stop offset="0.704" stop-color="rgb(150,150,30)" stop-opacity="0.291"/><stop offset="0.732" stop-color="rgb(150,150,30)" stop-opacity="0.215"/><stop offset="0.760" stop-color="rgb(150,150,30)" stop-opacity="0.148"/><stop offset="0.787" stop-color="rgb(150,150,30)" stop-opacity="0.095"/><stop offset="0.815" stop-color="rgb(150,150,30)" stop-opacity="0.057"/><stop offset="0.842" stop-color="rgb(150,150,30)" stop-opacity="0.032"/><stop offset="0.870" stop-color="rgb(150,150,30)" stop-opacity="0.000"/></radialGradient>
<radialGradient id="g30" gradientUnits="userSpaceOnUse" cx="0" cy="0" r="1" gradientTransform="translate(1259.5 165) scale(15 13)"><stop offset="0.000" stop-color="rgb(165,175,34)" stop-opacity="0.800"/><stop offset="0.083" stop-color="rgb(165,175,34)" stop-opacity="0.784"/><stop offset="0.167" stop-color="rgb(165,175,34)" stop-opacity="0.741"/><stop offset="0.250" stop-color="rgb(165,175,34)" stop-opacity="0.675"/><stop offset="0.333" stop-color="rgb(165,175,34)" stop-opacity="0.593"/><stop offset="0.417" stop-color="rgb(165,175,34)" stop-opacity="0.499"/><stop offset="0.500" stop-color="rgb(165,175,34)" stop-opacity="0.400"/><stop offset="0.583" stop-color="rgb(165,175,34)" stop-opacity="0.301"/><stop offset="0.667" stop-color="rgb(165,175,34)" stop-opacity="0.207"/><stop offset="0.750" stop-color="rgb(165,175,34)" stop-opacity="0.125"/><stop offset="0.833" stop-color="rgb(165,175,34)" stop-opacity="0.059"/><stop offset="0.917" stop-color="rgb(165,175,34)" stop-opacity="0.016"/><stop offset="1.000" stop-color="rgb(165,175,34)" stop-opacity="0.000"/></radialGradient>
<radialGradient id="g31" gradientUnits="userSpaceOnUse" cx="0" cy="0" r="1" gradientTransform="translate(1277 111.8) scale(70 70)"><stop offset="0.000" stop-color="rgb(165,200,38)" stop-opacity="0.000"/><stop offset="0.523" stop-color="rgb(165,200,38)" stop-opacity="0.000"/><stop offset="0.538" stop-color="rgb(165,200,38)" stop-opacity="0.065"/><stop offset="0.554" stop-color="rgb(165,200,38)" stop-opacity="0.115"/><stop offset="0.569" stop-color="rgb(165,200,38)" stop-opacity="0.191"/><stop offset="0.585" stop-color="rgb(165,200,38)" stop-opacity="0.296"/><stop offset="0.601" stop-color="rgb(165,200,38)" stop-opacity="0.430"/><stop offset="0.616" stop-color="rgb(165,200,38)" stop-opacity="0.582"/><stop offset="0.632" stop-color="rgb(165,200,38)" stop-opacity="0.738"/><stop offset="0.647" stop-color="rgb(165,200,38)" stop-opacity="0.874"/><stop offset="0.663" stop-color="rgb(165,200,38)" stop-opacity="0.967"/><stop offset="0.679" stop-color="rgb(165,200,38)" stop-opacity="1.000"/><stop offset="0.694" stop-color="rgb(165,200,38)" stop-opacity="0.967"/><stop offset="0.710" stop-color="rgb(165,200,38)" stop-opacity="0.874"/><stop offset="0.725" stop-color="rgb(165,200,38)" stop-opacity="0.738"/><stop offset="0.741" stop-color="rgb(165,200,38)" stop-opacity="0.582"/><stop offset="0.757" stop-color="rgb(165,200,38)" stop-opacity="0.430"/><stop offset="0.772" stop-color="rgb(165,200,38)" stop-opacity="0.296"/><stop offset="0.788" stop-color="rgb(165,200,38)" stop-opacity="0.191"/><stop offset="0.803" stop-color="rgb(165,200,38)" stop-opacity="0.115"/><stop offset="0.819" stop-color="rgb(165,200,38)" stop-opacity="0.065"/><stop offset="0.835" stop-color="rgb(165,200,38)" stop-opacity="0.000"/></radialGradient>
<radialGradient id="g32" gradientUnits="userSpaceOnUse" cx="0" cy="0" r="1" gradientTransform="translate(1235.0 90) scale(11 11)"><stop offset="0.000" stop-color="rgb(110,235,50)" stop-opacity="0.650"/><stop offset="0.083" stop-color="rgb(110,235,50)" stop-opacity="0.637"/><stop offset="0.167" stop-color="rgb(110,235,50)" stop-opacity="0.602"/><stop offset="0.250" stop-color="rgb(110,235,50)" stop-opacity="0.548"/><stop offset="0.333" stop-color="rgb(110,235,50)" stop-opacity="0.481"/><stop offset="0.417" stop-color="rgb(110,235,50)" stop-opacity="0.405"/><stop offset="0.500" stop-color="rgb(110,235,50)" stop-opacity="0.325"/><stop offset="0.583" stop-color="rgb(110,235,50)" stop-opacity="0.245"/><stop offset="0.667" stop-color="rgb(110,235,50)" stop-opacity="0.169"/><stop offset="0.750" stop-color="rgb(110,235,50)" stop-opacity="0.102"/><stop offset="0.833" stop-color="rgb(110,235,50)" stop-opacity="0.048"/><stop offset="0.917" stop-color="rgb(110,235,50)" stop-opacity="0.013"/><stop offset="1.000" stop-color="rgb(110,235,50)" stop-opacity="0.000"/></radialGradient>
<radialGradient id="g33" gradientUnits="userSpaceOnUse" cx="0" cy="0" r="1" gradientTransform="translate(1230.0 124.5) scale(11 11)"><stop offset="0.000" stop-color="rgb(110,235,50)" stop-opacity="0.650"/><stop offset="0.083" stop-color="rgb(110,235,50)" stop-opacity="0.637"/><stop offset="0.167" stop-color="rgb(110,235,50)" stop-opacity="0.602"/><stop offset="0.250" stop-color="rgb(110,235,50)" stop-opacity="0.548"/><stop offset="0.333" stop-color="rgb(110,235,50)" stop-opacity="0.481"/><stop offset="0.417" stop-color="rgb(110,235,50)" stop-opacity="0.405"/><stop offset="0.500" stop-color="rgb(110,235,50)" stop-opacity="0.325"/><stop offset="0.583" stop-color="rgb(110,235,50)" stop-opacity="0.245"/><stop offset="0.667" stop-color="rgb(110,235,50)" stop-opacity="0.169"/><stop offset="0.750" stop-color="rgb(110,235,50)" stop-opacity="0.102"/><stop offset="0.833" stop-color="rgb(110,235,50)" stop-opacity="0.048"/><stop offset="0.917" stop-color="rgb(110,235,50)" stop-opacity="0.013"/><stop offset="1.000" stop-color="rgb(110,235,50)" stop-opacity="0.000"/></radialGradient>
<radialGradient id="g34" gradientUnits="userSpaceOnUse" cx="0" cy="0" r="1" gradientTransform="translate(1315.5 143) scale(11 11)"><stop offset="0.000" stop-color="rgb(110,235,50)" stop-opacity="0.750"/><stop offset="0.083" stop-color="rgb(110,235,50)" stop-opacity="0.735"/><stop offset="0.167" stop-color="rgb(110,235,50)" stop-opacity="0.694"/><stop offset="0.250" stop-color="rgb(110,235,50)" stop-opacity="0.633"/><stop offset="0.333" stop-color="rgb(110,235,50)" stop-opacity="0.556"/><stop offset="0.417" stop-color="rgb(110,235,50)" stop-opacity="0.468"/><stop offset="0.500" stop-color="rgb(110,235,50)" stop-opacity="0.375"/><stop offset="0.583" stop-color="rgb(110,235,50)" stop-opacity="0.282"/><stop offset="0.667" stop-color="rgb(110,235,50)" stop-opacity="0.194"/><stop offset="0.750" stop-color="rgb(110,235,50)" stop-opacity="0.117"/><stop offset="0.833" stop-color="rgb(110,235,50)" stop-opacity="0.056"/><stop offset="0.917" stop-color="rgb(110,235,50)" stop-opacity="0.015"/><stop offset="1.000" stop-color="rgb(110,235,50)" stop-opacity="0.000"/></radialGradient>
<radialGradient id="g35" gradientUnits="userSpaceOnUse" cx="0" cy="0" r="1" gradientTransform="translate(1297.5 155.5) scale(11 11)"><stop offset="0.000" stop-color="rgb(110,235,50)" stop-opacity="0.550"/><stop offset="0.083" stop-color="rgb(110,235,50)" stop-opacity="0.539"/><stop offset="0.167" stop-color="rgb(110,235,50)" stop-opacity="0.509"/><stop offset="0.250" stop-color="rgb(110,235,50)" stop-opacity="0.464"/><stop offset="0.333" stop-color="rgb(110,235,50)" stop-opacity="0.407"/><stop offset="0.417" stop-color="rgb(110,235,50)" stop-opacity="0.343"/><stop offset="0.500" stop-color="rgb(110,235,50)" stop-opacity="0.275"/><stop offset="0.583" stop-color="rgb(110,235,50)" stop-opacity="0.207"/><stop offset="0.667" stop-color="rgb(110,235,50)" stop-opacity="0.143"/><stop offset="0.750" stop-color="rgb(110,235,50)" stop-opacity="0.086"/><stop offset="0.833" stop-color="rgb(110,235,50)" stop-opacity="0.041"/><stop offset="0.917" stop-color="rgb(110,235,50)" stop-opacity="0.011"/><stop offset="1.000" stop-color="rgb(110,235,50)" stop-opacity="0.000"/></radialGradient>
<radialGradient id="g36" gradientUnits="userSpaceOnUse" cx="0" cy="0" r="1" gradientTransform="translate(1262.5 157) scale(11 11)"><stop offset="0.000" stop-color="rgb(110,235,50)" stop-opacity="0.500"/><stop offset="0.083" stop-color="rgb(110,235,50)" stop-opacity="0.490"/><stop offset="0.167" stop-color="rgb(110,235,50)" stop-opacity="0.463"/><stop offset="0.250" stop-color="rgb(110,235,50)" stop-opacity="0.422"/><stop offset="0.333" stop-color="rgb(110,235,50)" stop-opacity="0.370"/><stop offset="0.417" stop-color="rgb(110,235,50)" stop-opacity="0.312"/><stop offset="0.500" stop-color="rgb(110,235,50)" stop-opacity="0.250"/><stop offset="0.583" stop-color="rgb(110,235,50)" stop-opacity="0.188"/><stop offset="0.667" stop-color="rgb(110,235,50)" stop-opacity="0.130"/><stop offset="0.750" stop-color="rgb(110,235,50)" stop-opacity="0.078"/><stop offset="0.833" stop-color="rgb(110,235,50)" stop-opacity="0.037"/><stop offset="0.917" stop-color="rgb(110,235,50)" stop-opacity="0.010"/><stop offset="1.000" stop-color="rgb(110,235,50)" stop-opacity="0.000"/></radialGradient>
<radialGradient id="g37" gradientUnits="userSpaceOnUse" cx="0" cy="0" r="1" gradientTransform="translate(1297.5 69) scale(11 11)"><stop offset="0.000" stop-color="rgb(110,235,50)" stop-opacity="0.350"/><stop offset="0.083" stop-color="rgb(110,235,50)" stop-opacity="0.343"/><stop offset="0.167" stop-color="rgb(110,235,50)" stop-opacity="0.324"/><stop offset="0.250" stop-color="rgb(110,235,50)" stop-opacity="0.295"/><stop offset="0.333" stop-color="rgb(110,235,50)" stop-opacity="0.259"/><stop offset="0.417" stop-color="rgb(110,235,50)" stop-opacity="0.218"/><stop offset="0.500" stop-color="rgb(110,235,50)" stop-opacity="0.175"/><stop offset="0.583" stop-color="rgb(110,235,50)" stop-opacity="0.132"/><stop offset="0.667" stop-color="rgb(110,235,50)" stop-opacity="0.091"/><stop offset="0.750" stop-color="rgb(110,235,50)" stop-opacity="0.055"/><stop offset="0.833" stop-color="rgb(110,235,50)" stop-opacity="0.026"/><stop offset="0.917" stop-color="rgb(110,235,50)" stop-opacity="0.007"/><stop offset="1.000" stop-color="rgb(110,235,50)" stop-opacity="0.000"/></radialGradient>
<radialGradient id="g38" gradientUnits="userSpaceOnUse" cx="0" cy="0" r="1" gradientTransform="translate(1320.5 96) scale(10 10)"><stop offset="0.000" stop-color="rgb(110,235,50)" stop-opacity="0.350"/><stop offset="0.083" stop-color="rgb(110,235,50)" stop-opacity="0.343"/><stop offset="0.167" stop-color="rgb(110,235,50)" stop-opacity="0.324"/><stop offset="0.250" stop-color="rgb(110,235,50)" stop-opacity="0.295"/><stop offset="0.333" stop-color="rgb(110,235,50)" stop-opacity="0.259"/><stop offset="0.417" stop-color="rgb(110,235,50)" stop-opacity="0.218"/><stop offset="0.500" stop-color="rgb(110,235,50)" stop-opacity="0.175"/><stop offset="0.583" stop-color="rgb(110,235,50)" stop-opacity="0.132"/><stop offset="0.667" stop-color="rgb(110,235,50)" stop-opacity="0.091"/><stop offset="0.750" stop-color="rgb(110,235,50)" stop-opacity="0.055"/><stop offset="0.833" stop-color="rgb(110,235,50)" stop-opacity="0.026"/><stop offset="0.917" stop-color="rgb(110,235,50)" stop-opacity="0.007"/><stop offset="1.000" stop-color="rgb(110,235,50)" stop-opacity="0.000"/></radialGradient>
<radialGradient id="g39" gradientUnits="userSpaceOnUse" cx="0" cy="0" r="1" gradientTransform="translate(1630 30) scale(70 55)"><stop offset="0.000" stop-color="rgb(128,128,128)" stop-opacity="0.800"/><stop offset="0.083" stop-color="rgb(128,128,128)" stop-opacity="0.784"/><stop offset="0.167" stop-color="rgb(128,128,128)" stop-opacity="0.741"/><stop offset="0.250" stop-color="rgb(128,128,128)" stop-opacity="0.675"/><stop offset="0.333" stop-color="rgb(128,128,128)" stop-opacity="0.593"/><stop offset="0.417" stop-color="rgb(128,128,128)" stop-opacity="0.499"/><stop offset="0.500" stop-color="rgb(128,128,128)" stop-opacity="0.400"/><stop offset="0.583" stop-color="rgb(128,128,128)" stop-opacity="0.301"/><stop offset="0.667" stop-color="rgb(128,128,128)" stop-opacity="0.207"/><stop offset="0.750" stop-color="rgb(128,128,128)" stop-opacity="0.125"/><stop offset="0.833" stop-color="rgb(128,128,128)" stop-opacity="0.059"/><stop offset="0.917" stop-color="rgb(128,128,128)" stop-opacity="0.016"/><stop offset="1.000" stop-color="rgb(128,128,128)" stop-opacity="0.000"/></radialGradient>
<radialGradient id="g40" gradientUnits="userSpaceOnUse" cx="0" cy="0" r="1" gradientTransform="translate(1440 60) scale(50 40)"><stop offset="0.000" stop-color="rgb(98,98,98)" stop-opacity="0.600"/><stop offset="0.083" stop-color="rgb(98,98,98)" stop-opacity="0.588"/><stop offset="0.167" stop-color="rgb(98,98,98)" stop-opacity="0.556"/><stop offset="0.250" stop-color="rgb(98,98,98)" stop-opacity="0.506"/><stop offset="0.333" stop-color="rgb(98,98,98)" stop-opacity="0.444"/><stop offset="0.417" stop-color="rgb(98,98,98)" stop-opacity="0.374"/><stop offset="0.500" stop-color="rgb(98,98,98)" stop-opacity="0.300"/><stop offset="0.583" stop-color="rgb(98,98,98)" stop-opacity="0.226"/><stop offset="0.667" stop-color="rgb(98,98,98)" stop-opacity="0.156"/><stop offset="0.750" stop-color="rgb(98,98,98)" stop-opacity="0.094"/><stop offset="0.833" stop-color="rgb(98,98,98)" stop-opacity="0.044"/><stop offset="0.917" stop-color="rgb(98,98,98)" stop-opacity="0.012"/><stop offset="1.000" stop-color="rgb(98,98,98)" stop-opacity="0.000"/></radialGradient>
<radialGradient id="g41" gradientUnits="userSpaceOnUse" cx="0" cy="0" r="1" gradientTransform="translate(1425 215) scale(30 50)"><stop offset="0.000" stop-color="rgb(100,100,100)" stop-opacity="0.700"/><stop offset="0.083" stop-color="rgb(100,100,100)" stop-opacity="0.686"/><stop offset="0.167" stop-color="rgb(100,100,100)" stop-opacity="0.648"/><stop offset="0.250" stop-color="rgb(100,100,100)" stop-opacity="0.591"/><stop offset="0.333" stop-color="rgb(100,100,100)" stop-opacity="0.519"/><stop offset="0.417" stop-color="rgb(100,100,100)" stop-opacity="0.437"/><stop offset="0.500" stop-color="rgb(100,100,100)" stop-opacity="0.350"/><stop offset="0.583" stop-color="rgb(100,100,100)" stop-opacity="0.263"/><stop offset="0.667" stop-color="rgb(100,100,100)" stop-opacity="0.181"/><stop offset="0.750" stop-color="rgb(100,100,100)" stop-opacity="0.109"/><stop offset="0.833" stop-color="rgb(100,100,100)" stop-opacity="0.052"/><stop offset="0.917" stop-color="rgb(100,100,100)" stop-opacity="0.014"/><stop offset="1.000" stop-color="rgb(100,100,100)" stop-opacity="0.000"/></radialGradient>
<radialGradient id="g42" gradientUnits="userSpaceOnUse" cx="0" cy="0" r="1" gradientTransform="translate(1538 218) scale(75 42)"><stop offset="0.000" stop-color="rgb(96,96,96)" stop-opacity="0.800"/><stop offset="0.083" stop-color="rgb(96,96,96)" stop-opacity="0.784"/><stop offset="0.167" stop-color="rgb(96,96,96)" stop-opacity="0.741"/><stop offset="0.250" stop-color="rgb(96,96,96)" stop-opacity="0.675"/><stop offset="0.333" stop-color="rgb(96,96,96)" stop-opacity="0.593"/><stop offset="0.417" stop-color="rgb(96,96,96)" stop-opacity="0.499"/><stop offset="0.500" stop-color="rgb(96,96,96)" stop-opacity="0.400"/><stop offset="0.583" stop-color="rgb(96,96,96)" stop-opacity="0.301"/><stop offset="0.667" stop-color="rgb(96,96,96)" stop-opacity="0.207"/><stop offset="0.750" stop-color="rgb(96,96,96)" stop-opacity="0.125"/><stop offset="0.833" stop-color="rgb(96,96,96)" stop-opacity="0.059"/><stop offset="0.917" stop-color="rgb(96,96,96)" stop-opacity="0.016"/><stop offset="1.000" stop-color="rgb(96,96,96)" stop-opacity="0.000"/></radialGradient>
<radialGradient id="g43" gradientUnits="userSpaceOnUse" cx="0" cy="0" r="1" gradientTransform="translate(1638 225) scale(30 40)"><stop offset="0.000" stop-color="rgb(100,100,100)" stop-opacity="0.700"/><stop offset="0.083" stop-color="rgb(100,100,100)" stop-opacity="0.686"/><stop offset="0.167" stop-color="rgb(100,100,100)" stop-opacity="0.648"/><stop offset="0.250" stop-color="rgb(100,100,100)" stop-opacity="0.591"/><stop offset="0.333" stop-color="rgb(100,100,100)" stop-opacity="0.519"/><stop offset="0.417" stop-color="rgb(100,100,100)" stop-opacity="0.437"/><stop offset="0.500" stop-color="rgb(100,100,100)" stop-opacity="0.350"/><stop offset="0.583" stop-color="rgb(100,100,100)" stop-opacity="0.263"/><stop offset="0.667" stop-color="rgb(100,100,100)" stop-opacity="0.181"/><stop offset="0.750" stop-color="rgb(100,100,100)" stop-opacity="0.109"/><stop offset="0.833" stop-color="rgb(100,100,100)" stop-opacity="0.052"/><stop offset="0.917" stop-color="rgb(100,100,100)" stop-opacity="0.014"/><stop offset="1.000" stop-color="rgb(100,100,100)" stop-opacity="0.000"/></radialGradient>
<radialGradient id="g44" gradientUnits="userSpaceOnUse" cx="0" cy="0" r="1" gradientTransform="translate(1538 114) scale(120 96)"><stop offset="0.000" stop-color="rgb(132,132,132)" stop-opacity="0.000"/><stop offset="0.683" stop-color="rgb(132,132,132)" stop-opacity="0.000"/><stop offset="0.695" stop-color="rgb(132,132,132)" stop-opacity="0.045"/><stop offset="0.706" stop-color="rgb(132,132,132)" stop-opacity="0.080"/><stop offset="0.718" stop-color="rgb(132,132,132)" stop-opacity="0.134"/><stop offset="0.730" stop-color="rgb(132,132,132)" stop-opacity="0.207"/><stop offset="0.742" stop-color="rgb(132,132,132)" stop-opacity="0.301"/><stop offset="0.753" stop-color="rgb(132,132,132)" stop-opacity="0.408"/><stop offset="0.765" stop-color="rgb(132,132,132)" stop-opacity="0.516"/><stop offset="0.777" stop-color="rgb(132,132,132)" stop-opacity="0.611"/><stop offset="0.788" stop-color="rgb(132,132,132)" stop-opacity="0.677"/><stop offset="0.800" stop-color="rgb(132,132,132)" stop-opacity="0.700"/><stop offset="0.812" stop-color="rgb(132,132,132)" stop-opacity="0.677"/><stop offset="0.823" stop-color="rgb(132,132,132)" stop-opacity="0.611"/><stop offset="0.835" stop-color="rgb(132,132,132)" stop-opacity="0.516"/><stop offset="0.847" stop-color="rgb(132,132,132)" stop-opacity="0.408"/><stop offset="0.859" stop-color="rgb(132,132,132)" stop-opacity="0.301"/><stop offset="0.870" stop-color="rgb(132,132,132)" stop-opacity="0.207"/><stop offset="0.882" stop-color="rgb(132,132,132)" stop-opacity="0.134"/><stop offset="0.894" stop-color="rgb(132,132,132)" stop-opacity="0.080"/><stop offset="0.905" stop-color="rgb(132,132,132)" stop-opacity="0.045"/><stop offset="0.917" stop-color="rgb(132,132,132)" stop-opacity="0.000"/></radialGradient>
<radialGradient id="g45" gradientUnits="userSpaceOnUse" cx="0" cy="0" r="1" gradientTransform="translate(1538 114) scale(120 96)"><stop offset="0.000" stop-color="rgb(86,86,86)" stop-opacity="0.000"/><stop offset="0.491" stop-color="rgb(86,86,86)" stop-opacity="0.000"/><stop offset="0.508" stop-color="rgb(86,86,86)" stop-opacity="0.045"/><stop offset="0.525" stop-color="rgb(86,86,86)" stop-opacity="0.080"/><stop offset="0.542" stop-color="rgb(86,86,86)" stop-opacity="0.134"/><stop offset="0.559" stop-color="rgb(86,86,86)" stop-opacity="0.207"/><stop offset="0.576" stop-color="rgb(86,86,86)" stop-opacity="0.301"/><stop offset="0.592" stop-color="rgb(86,86,86)" stop-opacity="0.408"/><stop offset="0.609" stop-color="rgb(86,86,86)" stop-opacity="0.516"/><stop offset="0.626" stop-color="rgb(86,86,86)" stop-opacity="0.611"/><stop offset="0.643" stop-color="rgb(86,86,86)" stop-opacity="0.677"/><stop offset="0.660" stop-color="rgb(86,86,86)" stop-opacity="0.700"/><stop offset="0.677" stop-color="rgb(86,86,86)" stop-opacity="0.677"/><stop offset="0.694" stop-color="rgb(86,86,86)" stop-opacity="0.611"/><stop offset="0.711" stop-color="rgb(86,86,86)" stop-opacity="0.516"/><stop offset="0.728" stop-color="rgb(86,86,86)" stop-opacity="0.408"/><stop offset="0.745" stop-color="rgb(86,86,86)" stop-opacity="0.301"/><stop offset="0.761" stop-color="rgb(86,86,86)" stop-opacity="0.207"/><stop offset="0.778" stop-color="rgb(86,86,86)" stop-opacity="0.134"/><stop offset="0.795" stop-color="rgb(86,86,86)" stop-opacity="0.080"/><stop offset="0.812" stop-color="rgb(86,86,86)" stop-opacity="0.045"/><stop offset="0.829" stop-color="rgb(86,86,86)" stop-opacity="0.000"/></radialGradient>
<radialGradient id="g46" gradientUnits="userSpaceOnUse" cx="0" cy="0" r="1" gradientTransform="translate(1468 122) scale(38 62)"><stop offset="0.000" stop-color="rgb(78,78,78)" stop-opacity="0.750"/><stop offset="0.083" stop-color="rgb(78,78,78)" stop-opacity="0.735"/><stop offset="0.167" stop-color="rgb(78,78,78)" stop-opacity="0.694"/><stop offset="0.250" stop-color="rgb(78,78,78)" stop-opacity="0.633"/><stop offset="0.333" stop-color="rgb(78,78,78)" stop-opacity="0.556"/><stop offset="0.417" stop-color="rgb(78,78,78)" stop-opacity="0.468"/><stop offset="0.500" stop-color="rgb(78,78,78)" stop-opacity="0.375"/><stop offset="0.583" stop-color="rgb(78,78,78)" stop-opacity="0.282"/><stop offset="0.667" stop-color="rgb(78,78,78)" stop-opacity="0.194"/><stop offset="0.750" stop-color="rgb(78,78,78)" stop-opacity="0.117"/><stop offset="0.833" stop-color="rgb(78,78,78)" stop-opacity="0.056"/><stop offset="0.917" stop-color="rgb(78,78,78)" stop-opacity="0.015"/><stop offset="1.000" stop-color="rgb(78,78,78)" stop-opacity="0.000"/></radialGradient>
<radialGradient id="g47" gradientUnits="userSpaceOnUse" cx="0" cy="0" r="1" gradientTransform="translate(1608 120) scale(26 55)"><stop offset="0.000" stop-color="rgb(86,86,86)" stop-opacity="0.600"/><stop offset="0.083" stop-color="rgb(86,86,86)" stop-opacity="0.588"/><stop offset="0.167" stop-color="rgb(86,86,86)" stop-opacity="0.556"/><stop offset="0.250" stop-color="rgb(86,86,86)" stop-opacity="0.506"/><stop offset="0.333" stop-color="rgb(86,86,86)" stop-opacity="0.444"/><stop offset="0.417" stop-color="rgb(86,86,86)" stop-opacity="0.374"/><stop offset="0.500" stop-color="rgb(86,86,86)" stop-opacity="0.300"/><stop offset="0.583" stop-color="rgb(86,86,86)" stop-opacity="0.226"/><stop offset="0.667" stop-color="rgb(86,86,86)" stop-opacity="0.156"/><stop offset="0.750" stop-color="rgb(86,86,86)" stop-opacity="0.094"/><stop offset="0.833" stop-color="rgb(86,86,86)" stop-opacity="0.044"/><stop offset="0.917" stop-color="rgb(86,86,86)" stop-opacity="0.012"/><stop offset="1.000" stop-color="rgb(86,86,86)" stop-opacity="0.000"/></radialGradient>
<radialGradient id="g48" gradientUnits="userSpaceOnUse" cx="0" cy="0" r="1" gradientTransform="translate(1536 150) scale(60 25)"><stop offset="0.000" stop-color="rgb(112,112,112)" stop-opacity="0.500"/><stop offset="0.083" stop-color="rgb(112,112,112)" stop-opacity="0.490"/><stop offset="0.167" stop-color="rgb(112,112,112)" stop-opacity="0.463"/><stop offset="0.250" stop-color="rgb(112,112,112)" stop-opacity="0.422"/><stop offset="0.333" stop-color="rgb(112,112,112)" stop-opacity="0.370"/><stop offset="0.417" stop-color="rgb(112,112,112)" stop-opacity="0.312"/><stop offset="0.500" stop-color="rgb(112,112,112)" stop-opacity="0.250"/><stop offset="0.583" stop-color="rgb(112,112,112)" stop-opacity="0.188"/><stop offset="0.667" stop-color="rgb(112,112,112)" stop-opacity="0.130"/><stop offset="0.750" stop-color="rgb(112,112,112)" stop-opacity="0.078"/><stop offset="0.833" stop-color="rgb(112,112,112)" stop-opacity="0.037"/><stop offset="0.917" stop-color="rgb(112,112,112)" stop-opacity="0.010"/><stop offset="1.000" stop-color="rgb(112,112,112)" stop-opacity="0.000"/></radialGradient>
<radialGradient id="g49" gradientUnits="userSpaceOnUse" cx="0" cy="0" r="1" gradientTransform="translate(1532 110) scale(50 44)"><stop offset="0.000" stop-color="rgb(82,82,82)" stop-opacity="0.850"/><stop offset="0.083" stop-color="rgb(82,82,82)" stop-opacity="0.833"/><stop offset="0.167" stop-color="rgb(82,82,82)" stop-opacity="0.787"/><stop offset="0.250" stop-color="rgb(82,82,82)" stop-opacity="0.717"/><stop offset="0.333" stop-color="rgb(82,82,82)" stop-opacity="0.630"/><stop offset="0.417" stop-color="rgb(82,82,82)" stop-opacity="0.530"/><stop offset="0.500" stop-color="rgb(82,82,82)" stop-opacity="0.425"/><stop offset="0.583" stop-color="rgb(82,82,82)" stop-opacity="0.320"/><stop offset="0.667" stop-color="rgb(82,82,82)" stop-opacity="0.220"/><stop offset="0.750" stop-color="rgb(82,82,82)" stop-opacity="0.133"/><stop offset="0.833" stop-color="rgb(82,82,82)" stop-opacity="0.063"/><stop offset="0.917" stop-color="rgb(82,82,82)" stop-opacity="0.017"/><stop offset="1.000" stop-color="rgb(82,82,82)" stop-opacity="0.000"/></radialGradient>
<radialGradient id="g50" gradientUnits="userSpaceOnUse" cx="0" cy="0" r="1" gradientTransform="translate(1534 108.5) scale(45 40)"><stop offset="0.000" stop-color="rgb(158,158,158)" stop-opacity="0.900"/><stop offset="0.500" stop-color="rgb(158,158,158)" stop-opacity="0.900"/><stop offset="0.542" stop-color="rgb(158,158,158)" stop-opacity="0.882"/><stop offset="0.583" stop-color="rgb(158,158,158)" stop-opacity="0.833"/><stop offset="0.625" stop-color="rgb(158,158,158)" stop-opacity="0.759"/><stop offset="0.667" stop-color="rgb(158,158,158)" stop-opacity="0.667"/><stop offset="0.708" stop-color="rgb(158,158,158)" stop-opacity="0.561"/><stop offset="0.750" stop-color="rgb(158,158,158)" stop-opacity="0.450"/><stop offset="0.792" stop-color="rgb(158,158,158)" stop-opacity="0.339"/><stop offset="0.833" stop-color="rgb(158,158,158)" stop-opacity="0.233"/><stop offset="0.875" stop-color="rgb(158,158,158)" stop-opacity="0.141"/><stop offset="0.917" stop-color="rgb(158,158,158)" stop-opacity="0.067"/><stop offset="0.958" stop-color="rgb(158,158,158)" stop-opacity="0.018"/><stop offset="1.000" stop-color="rgb(158,158,158)" stop-opacity="0.000"/></radialGradient>
<radialGradient id="g51" gradientUnits="userSpaceOnUse" cx="0" cy="0" r="1" gradientTransform="translate(1541.5 91) scale(15 10)"><stop offset="0.000" stop-color="rgb(255,255,255)" stop-opacity="1.000"/><stop offset="0.350" stop-color="rgb(255,255,255)" stop-opacity="1.000"/><stop offset="0.404" stop-color="rgb(255,255,255)" stop-opacity="0.980"/><stop offset="0.458" stop-color="rgb(255,255,255)" stop-opacity="0.926"/><stop offset="0.512" stop-color="rgb(255,255,255)" stop-opacity="0.844"/><stop offset="0.567" stop-color="rgb(255,255,255)" stop-opacity="0.741"/><stop offset="0.621" stop-color="rgb(255,255,255)" stop-opacity="0.624"/><stop offset="0.675" stop-color="rgb(255,255,255)" stop-opacity="0.500"/><stop offset="0.729" stop-color="rgb(255,255,255)" stop-opacity="0.376"/><stop offset="0.783" stop-color="rgb(255,255,255)" stop-opacity="0.259"/><stop offset="0.838" stop-color="rgb(255,255,255)" stop-opacity="0.156"/><stop offset="0.892" stop-color="rgb(255,255,255)" stop-opacity="0.074"/><stop offset="0.946" stop-color="rgb(255,255,255)" stop-opacity="0.020"/><stop offset="1.000" stop-color="rgb(255,255,255)" stop-opacity="0.000"/></radialGradient>
<radialGradient id="g52" gradientUnits="userSpaceOnUse" cx="0" cy="0" r="1" gradientTransform="translate(1525.5 87) scale(9 8)"><stop offset="0.000" stop-color="rgb(255,255,255)" stop-opacity="0.900"/><stop offset="0.200" stop-color="rgb(255,255,255)" stop-opacity="0.900"/><stop offset="0.267" stop-color="rgb(255,255,255)" stop-opacity="0.882"/><stop offset="0.333" stop-color="rgb(255,255,255)" stop-opacity="0.833"/><stop offset="0.400" stop-color="rgb(255,255,255)" stop-opacity="0.759"/><stop offset="0.467" stop-color="rgb(255,255,255)" stop-opacity="0.667"/><stop offset="0.533" stop-color="rgb(255,255,255)" stop-opacity="0.561"/><stop offset="0.600" stop-color="rgb(255,255,255)" stop-opacity="0.450"/><stop offset="0.667" stop-color="rgb(255,255,255)" stop-opacity="0.339"/><stop offset="0.733" stop-color="rgb(255,255,255)" stop-opacity="0.233"/><stop offset="0.800" stop-color="rgb(255,255,255)" stop-opacity="0.141"/><stop offset="0.867" stop-color="rgb(255,255,255)" stop-opacity="0.067"/><stop offset="0.933" stop-color="rgb(255,255,255)" stop-opacity="0.018"/><stop offset="1.000" stop-color="rgb(255,255,255)" stop-opacity="0.000"/></radialGradient>
<radialGradient id="g53" gradientUnits="userSpaceOnUse" cx="0" cy="0" r="1" gradientTransform="translate(1526.8 131) scale(10 9)"><stop offset="0.000" stop-color="rgb(255,255,255)" stop-opacity="1.000"/><stop offset="0.350" stop-color="rgb(255,255,255)" stop-opacity="1.000"/><stop offset="0.404" stop-color="rgb(255,255,255)" stop-opacity="0.980"/><stop offset="0.458" stop-color="rgb(255,255,255)" stop-opacity="0.926"/><stop offset="0.512" stop-color="rgb(255,255,255)" stop-opacity="0.844"/><stop offset="0.567" stop-color="rgb(255,255,255)" stop-opacity="0.741"/><stop offset="0.621" stop-color="rgb(255,255,255)" stop-opacity="0.624"/><stop offset="0.675" stop-color="rgb(255,255,255)" stop-opacity="0.500"/><stop offset="0.729" stop-color="rgb(255,255,255)" stop-opacity="0.376"/><stop offset="0.783" stop-color="rgb(255,255,255)" stop-opacity="0.259"/><stop offset="0.838" stop-color="rgb(255,255,255)" stop-opacity="0.156"/><stop offset="0.892" stop-color="rgb(255,255,255)" stop-opacity="0.074"/><stop offset="0.946" stop-color="rgb(255,255,255)" stop-opacity="0.020"/><stop offset="1.000" stop-color="rgb(255,255,255)" stop-opacity="0.000"/></radialGradient>
<radialGradient id="g54" gradientUnits="userSpaceOnUse" cx="0" cy="0" r="1" gradientTransform="translate(1551.5 111) scale(10 10)"><stop offset="0.000" stop-color="rgb(245,245,245)" stop-opacity="0.850"/><stop offset="0.200" stop-color="rgb(245,245,245)" stop-opacity="0.850"/><stop offset="0.267" stop-color="rgb(245,245,245)" stop-opacity="0.833"/><stop offset="0.333" stop-color="rgb(245,245,245)" stop-opacity="0.787"/><stop offset="0.400" stop-color="rgb(245,245,245)" stop-opacity="0.717"/><stop offset="0.467" stop-color="rgb(245,245,245)" stop-opacity="0.630"/><stop offset="0.533" stop-color="rgb(245,245,245)" stop-opacity="0.530"/><stop offset="0.600" stop-color="rgb(245,245,245)" stop-opacity="0.425"/><stop offset="0.667" stop-color="rgb(245,245,245)" stop-opacity="0.320"/><stop offset="0.733" stop-color="rgb(245,245,245)" stop-opacity="0.220"/><stop offset="0.800" stop-color="rgb(245,245,245)" stop-opacity="0.133"/><stop offset="0.867" stop-color="rgb(245,245,245)" stop-opacity="0.063"/><stop offset="0.933" stop-color="rgb(245,245,245)" stop-opacity="0.017"/><stop offset="1.000" stop-color="rgb(245,245,245)" stop-opacity="0.000"/></radialGradient>
<radialGradient id="g55" gradientUnits="userSpaceOnUse" cx="0" cy="0" r="1" gradientTransform="translate(1550 124) scale(9 7)"><stop offset="0.000" stop-color="rgb(235,235,235)" stop-opacity="0.750"/><stop offset="0.200" stop-color="rgb(235,235,235)" stop-opacity="0.750"/><stop offset="0.267" stop-color="rgb(235,235,235)" stop-opacity="0.735"/><stop offset="0.333" stop-color="rgb(235,235,235)" stop-opacity="0.694"/><stop offset="0.400" stop-color="rgb(235,235,235)" stop-opacity="0.633"/><stop offset="0.467" stop-color="rgb(235,235,235)" stop-opacity="0.556"/><stop offset="0.533" stop-color="rgb(235,235,235)" stop-opacity="0.468"/><stop offset="0.600" stop-color="rgb(235,235,235)" stop-opacity="0.375"/><stop offset="0.667" stop-color="rgb(235,235,235)" stop-opacity="0.282"/><stop offset="0.733" stop-color="rgb(235,235,235)" stop-opacity="0.194"/><stop offset="0.800" stop-color="rgb(235,235,235)" stop-opacity="0.117"/><stop offset="0.867" stop-color="rgb(235,235,235)" stop-opacity="0.056"/><stop offset="0.933" stop-color="rgb(235,235,235)" stop-opacity="0.015"/><stop offset="1.000" stop-color="rgb(235,235,235)" stop-opacity="0.000"/></radialGradient>
<radialGradient id="g56" gradientUnits="userSpaceOnUse" cx="0" cy="0" r="1" gradientTransform="translate(1512 116) scale(8 12)"><stop offset="0.000" stop-color="rgb(215,215,215)" stop-opacity="0.600"/><stop offset="0.083" stop-color="rgb(215,215,215)" stop-opacity="0.588"/><stop offset="0.167" stop-color="rgb(215,215,215)" stop-opacity="0.556"/><stop offset="0.250" stop-color="rgb(215,215,215)" stop-opacity="0.506"/><stop offset="0.333" stop-color="rgb(215,215,215)" stop-opacity="0.444"/><stop offset="0.417" stop-color="rgb(215,215,215)" stop-opacity="0.374"/><stop offset="0.500" stop-color="rgb(215,215,215)" stop-opacity="0.300"/><stop offset="0.583" stop-color="rgb(215,215,215)" stop-opacity="0.226"/><stop offset="0.667" stop-color="rgb(215,215,215)" stop-opacity="0.156"/><stop offset="0.750" stop-color="rgb(215,215,215)" stop-opacity="0.094"/><stop offset="0.833" stop-color="rgb(215,215,215)" stop-opacity="0.044"/><stop offset="0.917" stop-color="rgb(215,215,215)" stop-opacity="0.012"/><stop offset="1.000" stop-color="rgb(215,215,215)" stop-opacity="0.000"/></radialGradient>
<radialGradient id="g57" gradientUnits="userSpaceOnUse" cx="0" cy="0" r="1" gradientTransform="translate(1508 100) scale(12 9)"><stop offset="0.000" stop-color="rgb(60,60,60)" stop-opacity="0.800"/><stop offset="0.083" stop-color="rgb(60,60,60)" stop-opacity="0.784"/><stop offset="0.167" stop-color="rgb(60,60,60)" stop-opacity="0.741"/><stop offset="0.250" stop-color="rgb(60,60,60)" stop-opacity="0.675"/><stop offset="0.333" stop-color="rgb(60,60,60)" stop-opacity="0.593"/><stop offset="0.417" stop-color="rgb(60,60,60)" stop-opacity="0.499"/><stop offset="0.500" stop-color="rgb(60,60,60)" stop-opacity="0.400"/><stop offset="0.583" stop-color="rgb(60,60,60)" stop-opacity="0.301"/><stop offset="0.667" stop-color="rgb(60,60,60)" stop-opacity="0.207"/><stop offset="0.750" stop-color="rgb(60,60,60)" stop-opacity="0.125"/><stop offset="0.833" stop-color="rgb(60,60,60)" stop-opacity="0.059"/><stop offset="0.917" stop-color="rgb(60,60,60)" stop-opacity="0.016"/><stop offset="1.000" stop-color="rgb(60,60,60)" stop-opacity="0.000"/></radialGradient>
<radialGradient id="g58" gradientUnits="userSpaceOnUse" cx="0" cy="0" r="1" gradientTransform="translate(1536.8 112.5) scale(4 8)"><stop offset="0.000" stop-color="rgb(120,120,120)" stop-opacity="0.700"/><stop offset="0.083" stop-color="rgb(120,120,120)" stop-opacity="0.686"/><stop offset="0.167" stop-color="rgb(120,120,120)" stop-opacity="0.648"/><stop offset="0.250" stop-color="rgb(120,120,120)" stop-opacity="0.591"/><stop offset="0.333" stop-color="rgb(120,120,120)" stop-opacity="0.519"/><stop offset="0.417" stop-color="rgb(120,120,120)" stop-opacity="0.437"/><stop offset="0.500" stop-color="rgb(120,120,120)" stop-opacity="0.350"/><stop offset="0.583" stop-color="rgb(120,120,120)" stop-opacity="0.263"/><stop offset="0.667" stop-color="rgb(120,120,120)" stop-opacity="0.181"/><stop offset="0.750" stop-color="rgb(120,120,120)" stop-opacity="0.109"/><stop offset="0.833" stop-color="rgb(120,120,120)" stop-opacity="0.052"/><stop offset="0.917" stop-color="rgb(120,120,120)" stop-opacity="0.014"/><stop offset="1.000" stop-color="rgb(120,120,120)" stop-opacity="0.000"/></radialGradient>
</defs>
<rect width="1650" height="737" fill="#fff"/>
<text x="53.3" y="34.1" font-size="47.5" font-weight="normal" fill="#000" stroke="#000" stroke-width="0.6" stroke-linejoin="round" text-anchor="start" textLength="27.4" lengthAdjust="spacingAndGlyphs" >A</text>
<text x="367" y="19.7" font-size="28" font-weight="normal" fill="#231f20" stroke="#231f20" stroke-width="0.35" stroke-linejoin="round" text-anchor="start" textLength="187" lengthAdjust="spacingAndGlyphs" >Mature protein</text>
<path d="M316.3 34.1H586.9M316.3 27.8V40.5M586.9 27.8V40.5" stroke="#231f20" stroke-width="1.7" fill="none"/>
<text x="274.2" y="68.7" font-size="27.5" font-weight="normal" fill="#231f20" stroke="#231f20" stroke-width="0.35" stroke-linejoin="round" text-anchor="start" textLength="79.4" lengthAdjust="spacingAndGlyphs" >RLL-TE</text>
<path d="M315.7 74.5V98" stroke="#231f20" stroke-width="3.4" fill="none"/>
<path d="M307 94.5 L315.7 98.2 L324.4 94.5 L315.7 110.2 Z" fill="#231f20"/>
<text x="108.4" y="142.3" font-size="26.2" font-weight="bold" fill="#000" stroke="#000" stroke-width="0.35" stroke-linejoin="round" text-anchor="start" textLength="119.9" lengthAdjust="spacingAndGlyphs" >Hyp1-Nluc</text>
<rect x="252.3" y="112.3" width="141.8" height="52.6" fill="#f9b9af"/>
<rect x="280" y="112.3" width="20.4" height="52.6" fill="#ec2027"/>
<rect x="394" y="112.3" width="9" height="52.6" fill="#f9ed5f"/>
<rect x="403" y="112.3" width="181.4" height="52.6" fill="#cce3a8"/>
<rect x="252.3" y="112.3" width="332.1" height="52.6" fill="none" stroke="#231f20" stroke-width="3.8"/>
<path d="M394.05 112.3V164.9M403.2 112.3V164.9" stroke="#231f20" stroke-width="3.5" fill="none"/>
<text x="311.7" y="146" font-size="28" font-weight="normal" fill="#231f20" stroke="#231f20" stroke-width="0.35" stroke-linejoin="round" text-anchor="start" textLength="63.3" lengthAdjust="spacingAndGlyphs" >Hyp1</text>
<text x="463" y="146" font-size="28" font-weight="normal" fill="#231f20" stroke="#231f20" stroke-width="0.35" stroke-linejoin="round" text-anchor="start" textLength="56.6" lengthAdjust="spacingAndGlyphs" >Nluc</text>
<text x="292.1" y="194" font-size="27" font-weight="normal" fill="#231f20" stroke="#231f20" stroke-width="0.35" stroke-linejoin="round" text-anchor="start" textLength="78.7" lengthAdjust="spacingAndGlyphs" >113 aa</text>
<text x="467.1" y="194" font-size="27" font-weight="normal" fill="#231f20" stroke="#231f20" stroke-width="0.35" stroke-linejoin="round" text-anchor="start" textLength="78" lengthAdjust="spacingAndGlyphs" >171 aa</text>
<text x="52.7" y="306.5" font-size="47.5" font-weight="normal" fill="#000" stroke="#000" stroke-width="0.6" stroke-linejoin="round" text-anchor="start" textLength="27.8" lengthAdjust="spacingAndGlyphs" >C</text>
<text x="651.2" y="34.4" font-size="47.5" font-weight="normal" fill="#000" stroke="#000" stroke-width="0.6" stroke-linejoin="round" text-anchor="start" textLength="25.0" lengthAdjust="spacingAndGlyphs" >B</text>
<g clip-path="url(#cp0)" style="isolation:isolate">
<rect x="701.4" y="14.6" width="235.4" height="236.2" fill="#120000"/>
<rect x="701.4" y="14.6" width="235.4" height="236.2" fill="url(#g1)"/>
<rect x="701.4" y="14.6" width="235.4" height="236.2" fill="url(#g2)"/>
<rect x="701.4" y="14.6" width="235.4" height="236.2" fill="url(#g3)"/>
<rect x="701.4" y="14.6" width="235.4" height="236.2" fill="url(#g4)"/>
<path d="M797 80 Q788 90 778 102 M765 122 Q768 138 786 144 Q805 148 820 136" stroke="#ff2020" stroke-width="10" fill="none" stroke-linecap="round" filter="url(#b5)" opacity="0.5"/>
<rect x="701.4" y="14.6" width="235.4" height="236.2" fill="url(#g5)"/>
<rect x="701.4" y="14.6" width="235.4" height="236.2" fill="url(#g6)"/>
</g>
<text x="719" y="47.9" font-size="31.5" fill="#fff" stroke="#fff" stroke-width="0.3" textLength="141" lengthAdjust="spacingAndGlyphs">Hyp1-Nluc</text>
<g clip-path="url(#cp1)" style="isolation:isolate">
<rect x="939.0" y="14.6" width="236.0" height="236.2" fill="#010603"/>
<rect x="939.0" y="14.6" width="236.0" height="236.2" fill="url(#g7)"/>
<rect x="939.0" y="14.6" width="236.0" height="236.2" fill="url(#g8)"/>
<rect x="939.0" y="14.6" width="236.0" height="236.2" fill="url(#g9)"/>
<rect x="939.0" y="14.6" width="236.0" height="236.2" fill="url(#g10)"/>
<rect x="939.0" y="14.6" width="236.0" height="236.2" fill="url(#g11)"/>
<rect x="939.0" y="14.6" width="236.0" height="236.2" fill="url(#g12)"/>
<rect x="939.0" y="14.6" width="236.0" height="236.2" fill="url(#g13)"/>
<rect x="939.0" y="14.6" width="236.0" height="236.2" fill="url(#g14)"/>
<rect x="939.0" y="14.6" width="236.0" height="236.2" fill="url(#g15)"/>
<rect x="939.0" y="14.6" width="236.0" height="236.2" fill="url(#g16)"/>
<rect x="939.0" y="14.6" width="236.0" height="236.2" fill="url(#g17)"/>
<rect x="939.0" y="14.6" width="236.0" height="236.2" fill="url(#g18)"/>
<rect x="939.0" y="14.6" width="236.0" height="236.2" fill="url(#g19)"/>
</g>
<text x="947" y="47.9" font-size="31.5" fill="#fff" stroke="#fff" stroke-width="0.3" textLength="67" lengthAdjust="spacingAndGlyphs">EXP2</text>
<g clip-path="url(#cp2)" style="isolation:isolate">
<rect x="1177.0" y="14.6" width="235.7" height="236.2" fill="#0a0305"/>
<rect x="1177.0" y="14.6" width="235.7" height="236.2" fill="url(#g20)"/>
<rect x="1177.0" y="14.6" width="235.7" height="236.2" fill="url(#g21)"/>
<rect x="1177.0" y="14.6" width="235.7" height="236.2" fill="url(#g22)"/>
<rect x="1177.0" y="14.6" width="235.7" height="236.2" fill="url(#g23)"/>
<rect x="1177.0" y="14.6" width="235.7" height="236.2" fill="url(#g24)"/>
<rect x="1177.0" y="14.6" width="235.7" height="236.2" fill="url(#g25)"/>
<rect x="1177.0" y="14.6" width="235.7" height="236.2" fill="url(#g26)"/>
<rect x="1177.0" y="14.6" width="235.7" height="236.2" fill="url(#g27)"/>
<rect x="1177.0" y="14.6" width="235.7" height="236.2" fill="url(#g28)"/>
<rect x="1177.0" y="14.6" width="235.7" height="236.2" fill="url(#g29)"/>
<rect x="1177.0" y="14.6" width="235.7" height="236.2" fill="url(#g30)"/>
<rect x="1177.0" y="14.6" width="235.7" height="236.2" fill="url(#g31)"/>
<rect x="1177.0" y="14.6" width="235.7" height="236.2" fill="url(#g32)"/>
<rect x="1177.0" y="14.6" width="235.7" height="236.2" fill="url(#g33)"/>
<rect x="1177.0" y="14.6" width="235.7" height="236.2" fill="url(#g34)"/>
<rect x="1177.0" y="14.6" width="235.7" height="236.2" fill="url(#g35)"/>
<rect x="1177.0" y="14.6" width="235.7" height="236.2" fill="url(#g36)"/>
<rect x="1177.0" y="14.6" width="235.7" height="236.2" fill="url(#g37)"/>
<rect x="1177.0" y="14.6" width="235.7" height="236.2" fill="url(#g38)"/>
</g>
<text x="1204" y="47.9" font-size="31.5" fill="#fff" stroke="#fff" stroke-width="0.3" textLength="157" lengthAdjust="spacingAndGlyphs">DAPI Merge</text>
<g clip-path="url(#cp3)" style="isolation:isolate">
<rect x="1414.5" y="14.6" width="235.5" height="236.2" fill="#6d6d6d"/>
<rect x="1414.5" y="14.6" width="235.5" height="236.2" fill="url(#g39)"/>
<rect x="1414.5" y="14.6" width="235.5" height="236.2" fill="url(#g40)"/>
<path d="M1410 100 C1442 140 1462 190 1474 258" stroke="#8c8c8c" stroke-width="13" fill="none" filter="url(#b5)"/>
<path d="M1654 176 C1620 184 1598 215 1590 258" stroke="#868686" stroke-width="10" fill="none" filter="url(#b5)"/>
<rect x="1414.5" y="14.6" width="235.5" height="236.2" fill="url(#g41)"/>
<rect x="1414.5" y="14.6" width="235.5" height="236.2" fill="url(#g42)"/>
<rect x="1414.5" y="14.6" width="235.5" height="236.2" fill="url(#g43)"/>
<rect x="1414.5" y="14.6" width="235.5" height="236.2" fill="url(#g44)"/>
<rect x="1414.5" y="14.6" width="235.5" height="236.2" fill="url(#g45)"/>
<rect x="1414.5" y="14.6" width="235.5" height="236.2" fill="url(#g46)"/>
<rect x="1414.5" y="14.6" width="235.5" height="236.2" fill="url(#g47)"/>
<rect x="1414.5" y="14.6" width="235.5" height="236.2" fill="url(#g48)"/>
<rect x="1414.5" y="14.6" width="235.5" height="236.2" fill="url(#g49)"/>
<rect x="1414.5" y="14.6" width="235.5" height="236.2" fill="url(#g50)"/>
<rect x="1414.5" y="14.6" width="235.5" height="236.2" fill="url(#g51)"/>
<rect x="1414.5" y="14.6" width="235.5" height="236.2" fill="url(#g52)"/>
<rect x="1414.5" y="14.6" width="235.5" height="236.2" fill="url(#g53)"/>
<rect x="1414.5" y="14.6" width="235.5" height="236.2" fill="url(#g54)"/>
<rect x="1414.5" y="14.6" width="235.5" height="236.2" fill="url(#g55)"/>
<rect x="1414.5" y="14.6" width="235.5" height="236.2" fill="url(#g56)"/>
<rect x="1414.5" y="14.6" width="235.5" height="236.2" fill="url(#g57)"/>
<g filter="url(#b15)" fill="none" stroke="#0d0d0d" stroke-linecap="round" stroke-linejoin="round"><path d="M1514.5 89.5 L1522 95 L1530 100.5" stroke-width="6"/><path d="M1530 100.5 Q1535 98 1539 100.5 Q1544 105 1543.8 112 Q1543.5 120 1540 124.5 Q1537 128.5 1534.5 126.5 Q1531 121 1530 114 Q1529 107 1530 100.5Z" stroke-width="5.8"/><path d="M1517.5 120 Q1519 124.5 1522 122" stroke-width="8.5"/></g>
<rect x="1414.5" y="14.6" width="235.5" height="236.2" fill="url(#g58)"/>
</g>
<text x="1421.5" y="47.9" font-size="31.5" font-weight="normal" fill="#fff" stroke="#fff" stroke-width="0.35" stroke-linejoin="round" text-anchor="start" textLength="138" lengthAdjust="spacingAndGlyphs" >Brightfield</text>
<rect x="1480" y="219.3" width="139.3" height="6.6" fill="#fff"/>
<text x="1522" y="247.5" font-size="21.5" font-weight="bold" fill="#fff" stroke="#fff" stroke-width="0.35" stroke-linejoin="round" text-anchor="start" textLength="53" lengthAdjust="spacingAndGlyphs" >5 µm</text>
<text x="254.5" y="408.7" font-size="36" font-weight="bold" fill="#000" stroke="#000" stroke-width="0.35" stroke-linejoin="round" text-anchor="start" textLength="93.7" lengthAdjust="spacingAndGlyphs" >MB14</text>
<path d="M168.5 444.3H195.60000000000002" stroke="#0000ff" stroke-width="4.5" stroke-linecap="round" fill="none"/>
<circle cx="182.1" cy="444.3" r="5.6" fill="#0000ff"/>
<text x="204.9" y="449.6" font-size="25" font-weight="normal" fill="#000" stroke="#000" stroke-width="0.35" stroke-linejoin="round" text-anchor="start" textLength="47" lengthAdjust="spacingAndGlyphs" >5µM</text>
<path d="M286.0 444.3H313.1" stroke="#ff0000" stroke-width="4.5" stroke-linecap="round" fill="none"/>
<rect x="294.1" y="438.8" width="11" height="11" fill="#ff0000"/>
<text x="317.4" y="449.6" font-size="25" font-weight="normal" fill="#000" stroke="#000" stroke-width="0.35" stroke-linejoin="round" text-anchor="start" textLength="59.5" lengthAdjust="spacingAndGlyphs" >10µM</text>
<path d="M411.59999999999997 444.3H438.7" stroke="#00bf00" stroke-width="4.5" stroke-linecap="round" fill="none"/>
<path d="M425.2 439.0L430.8 449.4H419.6Z" fill="#00bf00"/>
<text x="442.4" y="449.6" font-size="25" font-weight="normal" fill="#000" stroke="#000" stroke-width="0.35" stroke-linejoin="round" text-anchor="start" textLength="61" lengthAdjust="spacingAndGlyphs" >20µM</text>
<path d="M110.7 448.9V713.2199999999999" stroke="#000" stroke-width="4.1" fill="none"/>
<path d="M110.7 676.7H503.95" stroke="#000" stroke-width="4.1" fill="none"/>
<path d="M100.5 450.95H110.7" stroke="#000" stroke-width="4.1" fill="none"/>
<text x="69.67" y="462.25" font-size="25" font-weight="normal" fill="#000" stroke="#000" stroke-width="0.35" stroke-linejoin="round" text-anchor="start" textLength="26.7" lengthAdjust="spacingAndGlyphs" >25</text>
<path d="M100.5 494.32H110.7" stroke="#000" stroke-width="4.1" fill="none"/>
<text x="69.67" y="505.62" font-size="25" font-weight="normal" fill="#000" stroke="#000" stroke-width="0.35" stroke-linejoin="round" text-anchor="start" textLength="26.7" lengthAdjust="spacingAndGlyphs" >20</text>
<path d="M100.5 537.69H110.7" stroke="#000" stroke-width="4.1" fill="none"/>
<text x="69.67" y="548.99" font-size="25" font-weight="normal" fill="#000" stroke="#000" stroke-width="0.35" stroke-linejoin="round" text-anchor="start" textLength="26.7" lengthAdjust="spacingAndGlyphs" >15</text>
<path d="M100.5 581.06H110.7" stroke="#000" stroke-width="4.1" fill="none"/>
<text x="69.67" y="592.36" font-size="25" font-weight="normal" fill="#000" stroke="#000" stroke-width="0.35" stroke-linejoin="round" text-anchor="start" textLength="26.7" lengthAdjust="spacingAndGlyphs" >10</text>
<path d="M100.5 624.43H110.7" stroke="#000" stroke-width="4.1" fill="none"/>
<text x="80.89" y="635.73" font-size="25" font-weight="normal" fill="#000" stroke="#000" stroke-width="0.35" stroke-linejoin="round" text-anchor="start" textLength="13.35" lengthAdjust="spacingAndGlyphs" >5</text>
<path d="M100.5 667.8H110.7" stroke="#000" stroke-width="4.1" fill="none"/>
<text x="80.89" y="679.1" font-size="25" font-weight="normal" fill="#000" stroke="#000" stroke-width="0.35" stroke-linejoin="round" text-anchor="start" textLength="13.35" lengthAdjust="spacingAndGlyphs" >0</text>
<path d="M100.5 711.17H110.7" stroke="#000" stroke-width="4.1" fill="none"/>
<text x="74.17" y="722.47" font-size="25" font-weight="normal" fill="#000" stroke="#000" stroke-width="0.35" stroke-linejoin="round" text-anchor="start" textLength="21.35" lengthAdjust="spacingAndGlyphs" >-5</text>
<path d="M208.5 676.7V687.1" stroke="#000" stroke-width="4.1" fill="none"/>
<text x="198.5" y="709.8" font-size="25" font-weight="normal" fill="#000" stroke="#000" stroke-width="0.35" stroke-linejoin="round" text-anchor="start" textLength="13.35" lengthAdjust="spacingAndGlyphs" >2</text>
<path d="M306.3 676.7V687.1" stroke="#000" stroke-width="4.1" fill="none"/>
<text x="296.3" y="709.8" font-size="25" font-weight="normal" fill="#000" stroke="#000" stroke-width="0.35" stroke-linejoin="round" text-anchor="start" textLength="13.35" lengthAdjust="spacingAndGlyphs" >4</text>
<path d="M404.1 676.7V687.1" stroke="#000" stroke-width="4.1" fill="none"/>
<text x="394.1" y="709.8" font-size="25" font-weight="normal" fill="#000" stroke="#000" stroke-width="0.35" stroke-linejoin="round" text-anchor="start" textLength="13.35" lengthAdjust="spacingAndGlyphs" >6</text>
<path d="M501.9 676.7V687.1" stroke="#000" stroke-width="4.1" fill="none"/>
<text x="491.9" y="709.8" font-size="25" font-weight="normal" fill="#000" stroke="#000" stroke-width="0.35" stroke-linejoin="round" text-anchor="start" textLength="13.35" lengthAdjust="spacingAndGlyphs" >8</text>
<polyline points="110.7,669.1 159.6,668.23 208.5,666.93 306.3,638.31 501.9,558.33" fill="none" stroke="#00bf00" stroke-width="4.6" stroke-linejoin="round" stroke-linecap="round"/>
<path d="M110.7 663.8L116.3 674.2H105.1Z" fill="#00bf00"/>
<path d="M159.6 662.93L165.2 673.33H154.0Z" fill="#00bf00"/>
<path d="M208.5 661.63L214.1 672.03H202.9Z" fill="#00bf00"/>
<path d="M306.3 633.01L311.9 643.41H300.7Z" fill="#00bf00"/>
<path d="M501.9 553.03L507.5 563.43H496.3Z" fill="#00bf00"/>
<polyline points="110.7,666.5 159.6,666.33 208.5,667.19 306.3,653.66 501.9,580.45" fill="none" stroke="#ff0000" stroke-width="4.6" stroke-linejoin="round" stroke-linecap="round"/>
<rect x="105.2" y="661.0" width="11" height="11" fill="#ff0000"/>
<rect x="154.1" y="660.83" width="11" height="11" fill="#ff0000"/>
<rect x="203.0" y="661.69" width="11" height="11" fill="#ff0000"/>
<rect x="300.8" y="648.16" width="11" height="11" fill="#ff0000"/>
<rect x="496.4" y="574.95" width="11" height="11" fill="#ff0000"/>
<polyline points="110.7,667.8 159.6,667.37 208.5,666.93 306.3,662.08 501.9,620.79" fill="none" stroke="#0000ff" stroke-width="4.6" stroke-linejoin="round" stroke-linecap="round"/>
<circle cx="110.7" cy="667.8" r="5.6" fill="#0000ff"/>
<circle cx="159.6" cy="667.37" r="5.6" fill="#0000ff"/>
<circle cx="208.5" cy="666.93" r="5.6" fill="#0000ff"/>
<circle cx="306.3" cy="662.08" r="5.6" fill="#0000ff"/>
<circle cx="501.9" cy="620.79" r="5.6" fill="#0000ff"/>
<text x="276.3" y="736.6" font-size="29.5" font-weight="normal" fill="#000" stroke="#000" stroke-width="0.35" stroke-linejoin="round" text-anchor="start" textLength="72" lengthAdjust="spacingAndGlyphs" >Hours</text>
<text transform="translate(20.9 646.2) rotate(-90)" font-size="29.5" stroke="#000" stroke-width="0.35" textLength="136" lengthAdjust="spacingAndGlyphs">Compound</text>
<text transform="translate(47.8 696) rotate(-90)" font-size="28.5" stroke="#000" stroke-width="0.35" textLength="245.5" lengthAdjust="spacingAndGlyphs">dependent lysis (%)</text>
<text x="731" y="408.7" font-size="36" font-weight="bold" fill="#000" stroke="#000" stroke-width="0.35" stroke-linejoin="round" text-anchor="start" textLength="193.5" lengthAdjust="spacingAndGlyphs" >Cipargamin</text>
<path d="M669.3000000000001 444.3H696.4" stroke="#0000ff" stroke-width="4.5" stroke-linecap="round" fill="none"/>
<circle cx="682.9" cy="444.3" r="5.6" fill="#0000ff"/>
<text x="705.9" y="449.6" font-size="25" font-weight="normal" fill="#000" stroke="#000" stroke-width="0.35" stroke-linejoin="round" text-anchor="start" textLength="46.5" lengthAdjust="spacingAndGlyphs" >5nM</text>
<path d="M786.8000000000001 444.3H813.9" stroke="#ff0000" stroke-width="4.5" stroke-linecap="round" fill="none"/>
<rect x="794.9" y="438.8" width="11" height="11" fill="#ff0000"/>
<text x="816.9" y="449.6" font-size="25" font-weight="normal" fill="#000" stroke="#000" stroke-width="0.35" stroke-linejoin="round" text-anchor="start" textLength="60" lengthAdjust="spacingAndGlyphs" >10nM</text>
<path d="M912.4000000000001 444.3H939.5" stroke="#00bf00" stroke-width="4.5" stroke-linecap="round" fill="none"/>
<path d="M926.0 439.0L931.6 449.4H920.4Z" fill="#00bf00"/>
<text x="943.4" y="449.6" font-size="25" font-weight="normal" fill="#000" stroke="#000" stroke-width="0.35" stroke-linejoin="round" text-anchor="start" textLength="60.5" lengthAdjust="spacingAndGlyphs" >20nM</text>
<path d="M638.6 448.9V713.2199999999999" stroke="#000" stroke-width="4.1" fill="none"/>
<path d="M638.6 676.7H1031.85" stroke="#000" stroke-width="4.1" fill="none"/>
<path d="M628.4 450.95H638.6" stroke="#000" stroke-width="4.1" fill="none"/>
<text x="597.57" y="462.25" font-size="25" font-weight="normal" fill="#000" stroke="#000" stroke-width="0.35" stroke-linejoin="round" text-anchor="start" textLength="26.7" lengthAdjust="spacingAndGlyphs" >25</text>
<path d="M628.4 494.32H638.6" stroke="#000" stroke-width="4.1" fill="none"/>
<text x="597.57" y="505.62" font-size="25" font-weight="normal" fill="#000" stroke="#000" stroke-width="0.35" stroke-linejoin="round" text-anchor="start" textLength="26.7" lengthAdjust="spacingAndGlyphs" >20</text>
<path d="M628.4 537.69H638.6" stroke="#000" stroke-width="4.1" fill="none"/>
<text x="597.57" y="548.99" font-size="25" font-weight="normal" fill="#000" stroke="#000" stroke-width="0.35" stroke-linejoin="round" text-anchor="start" textLength="26.7" lengthAdjust="spacingAndGlyphs" >15</text>
<path d="M628.4 581.06H638.6" stroke="#000" stroke-width="4.1" fill="none"/>
<text x="597.57" y="592.36" font-size="25" font-weight="normal" fill="#000" stroke="#000" stroke-width="0.35" stroke-linejoin="round" text-anchor="start" textLength="26.7" lengthAdjust="spacingAndGlyphs" >10</text>
<path d="M628.4 624.43H638.6" stroke="#000" stroke-width="4.1" fill="none"/>
<text x="608.79" y="635.73" font-size="25" font-weight="normal" fill="#000" stroke="#000" stroke-width="0.35" stroke-linejoin="round" text-anchor="start" textLength="13.35" lengthAdjust="spacingAndGlyphs" >5</text>
<path d="M628.4 667.8H638.6" stroke="#000" stroke-width="4.1" fill="none"/>
<text x="608.79" y="679.1" font-size="25" font-weight="normal" fill="#000" stroke="#000" stroke-width="0.35" stroke-linejoin="round" text-anchor="start" textLength="13.35" lengthAdjust="spacingAndGlyphs" >0</text>
<path d="M628.4 711.17H638.6" stroke="#000" stroke-width="4.1" fill="none"/>
<text x="602.07" y="722.47" font-size="25" font-weight="normal" fill="#000" stroke="#000" stroke-width="0.35" stroke-linejoin="round" text-anchor="start" textLength="21.35" lengthAdjust="spacingAndGlyphs" >-5</text>
<path d="M736.4 676.7V687.1" stroke="#000" stroke-width="4.1" fill="none"/>
<text x="726.4" y="709.8" font-size="25" font-weight="normal" fill="#000" stroke="#000" stroke-width="0.35" stroke-linejoin="round" text-anchor="start" textLength="13.35" lengthAdjust="spacingAndGlyphs" >2</text>
<path d="M834.2 676.7V687.1" stroke="#000" stroke-width="4.1" fill="none"/>
<text x="824.2" y="709.8" font-size="25" font-weight="normal" fill="#000" stroke="#000" stroke-width="0.35" stroke-linejoin="round" text-anchor="start" textLength="13.35" lengthAdjust="spacingAndGlyphs" >4</text>
<path d="M932.0 676.7V687.1" stroke="#000" stroke-width="4.1" fill="none"/>
<text x="922.0" y="709.8" font-size="25" font-weight="normal" fill="#000" stroke="#000" stroke-width="0.35" stroke-linejoin="round" text-anchor="start" textLength="13.35" lengthAdjust="spacingAndGlyphs" >6</text>
<path d="M1029.8 676.7V687.1" stroke="#000" stroke-width="4.1" fill="none"/>
<text x="1019.8" y="709.8" font-size="25" font-weight="normal" fill="#000" stroke="#000" stroke-width="0.35" stroke-linejoin="round" text-anchor="start" textLength="13.35" lengthAdjust="spacingAndGlyphs" >8</text>
<polyline points="638.6,667.8 687.5,665.2 736.4,648.72 834.2,578.46 1029.8,473.5" fill="none" stroke="#00bf00" stroke-width="4.6" stroke-linejoin="round" stroke-linecap="round"/>
<path d="M638.6 662.5L644.2 672.9H633.0Z" fill="#00bf00"/>
<path d="M687.5 659.9L693.1 670.3H681.9Z" fill="#00bf00"/>
<path d="M736.4 643.42L742.0 653.82H730.8Z" fill="#00bf00"/>
<path d="M834.2 573.16L839.8 583.56H828.6Z" fill="#00bf00"/>
<path d="M1029.8 468.2L1035.4 478.6H1024.2Z" fill="#00bf00"/>
<polyline points="638.6,668.67 687.5,667.8 736.4,652.62 834.2,580.19 1029.8,480.44" fill="none" stroke="#ff0000" stroke-width="4.6" stroke-linejoin="round" stroke-linecap="round"/>
<rect x="633.1" y="663.17" width="11" height="11" fill="#ff0000"/>
<rect x="682.0" y="662.3" width="11" height="11" fill="#ff0000"/>
<rect x="730.9" y="647.12" width="11" height="11" fill="#ff0000"/>
<rect x="828.7" y="574.69" width="11" height="11" fill="#ff0000"/>
<rect x="1024.3" y="474.94" width="11" height="11" fill="#ff0000"/>
<polyline points="638.6,667.8 687.5,665.2 736.4,654.44 834.2,584.96 1029.8,466.91" fill="none" stroke="#0000ff" stroke-width="4.6" stroke-linejoin="round" stroke-linecap="round"/>
<circle cx="638.6" cy="667.8" r="5.6" fill="#0000ff"/>
<circle cx="687.5" cy="665.2" r="5.6" fill="#0000ff"/>
<circle cx="736.4" cy="654.44" r="5.6" fill="#0000ff"/>
<circle cx="834.2" cy="584.96" r="5.6" fill="#0000ff"/>
<circle cx="1029.8" cy="466.91" r="5.6" fill="#0000ff"/>
<path d="M1029.8 461.88V472.63M1023.5 461.88h12.6M1023.5 472.63h12.6" stroke="#0000ff" stroke-width="2.8" stroke-linecap="round" fill="none"/>
<text x="804.2" y="736.6" font-size="29.5" font-weight="normal" fill="#000" stroke="#000" stroke-width="0.35" stroke-linejoin="round" text-anchor="start" textLength="72" lengthAdjust="spacingAndGlyphs" >Hours</text>
<text x="1269.5" y="408.7" font-size="36" font-weight="bold" fill="#000" stroke="#000" stroke-width="0.35" stroke-linejoin="round" text-anchor="start" textLength="192.5" lengthAdjust="spacingAndGlyphs" >Artemisinin</text>
<path d="M1186.1000000000001 444.3H1213.2" stroke="#0000ff" stroke-width="4.5" stroke-linecap="round" fill="none"/>
<circle cx="1199.7" cy="444.3" r="5.6" fill="#0000ff"/>
<text x="1221.9" y="449.6" font-size="25" font-weight="normal" fill="#000" stroke="#000" stroke-width="0.35" stroke-linejoin="round" text-anchor="start" textLength="60.5" lengthAdjust="spacingAndGlyphs" >25nM</text>
<path d="M1307.4 444.3H1334.5" stroke="#ff0000" stroke-width="4.5" stroke-linecap="round" fill="none"/>
<rect x="1315.5" y="438.8" width="11" height="11" fill="#ff0000"/>
<text x="1337.9" y="449.6" font-size="25" font-weight="normal" fill="#000" stroke="#000" stroke-width="0.35" stroke-linejoin="round" text-anchor="start" textLength="60" lengthAdjust="spacingAndGlyphs" >50nM</text>
<path d="M1429.2 444.3H1456.3" stroke="#00bf00" stroke-width="4.5" stroke-linecap="round" fill="none"/>
<path d="M1442.8 439.0L1448.4 449.4H1437.2Z" fill="#00bf00"/>
<text x="1461.0" y="449.6" font-size="25" font-weight="normal" fill="#000" stroke="#000" stroke-width="0.35" stroke-linejoin="round" text-anchor="start" textLength="73" lengthAdjust="spacingAndGlyphs" >100nM</text>
<path d="M1160.9 448.9V713.2199999999999" stroke="#000" stroke-width="4.1" fill="none"/>
<path d="M1160.9 676.7H1554.1499999999999" stroke="#000" stroke-width="4.1" fill="none"/>
<path d="M1150.7 450.95H1160.9" stroke="#000" stroke-width="4.1" fill="none"/>
<text x="1119.87" y="458.25" font-size="25" font-weight="normal" fill="#000" stroke="#000" stroke-width="0.35" stroke-linejoin="round" text-anchor="start" textLength="26.7" lengthAdjust="spacingAndGlyphs" >25</text>
<path d="M1150.7 494.32H1160.9" stroke="#000" stroke-width="4.1" fill="none"/>
<text x="1119.87" y="501.62" font-size="25" font-weight="normal" fill="#000" stroke="#000" stroke-width="0.35" stroke-linejoin="round" text-anchor="start" textLength="26.7" lengthAdjust="spacingAndGlyphs" >20</text>
<path d="M1150.7 537.69H1160.9" stroke="#000" stroke-width="4.1" fill="none"/>
<text x="1119.87" y="544.99" font-size="25" font-weight="normal" fill="#000" stroke="#000" stroke-width="0.35" stroke-linejoin="round" text-anchor="start" textLength="26.7" lengthAdjust="spacingAndGlyphs" >15</text>
<path d="M1150.7 581.06H1160.9" stroke="#000" stroke-width="4.1" fill="none"/>
<text x="1119.87" y="588.36" font-size="25" font-weight="normal" fill="#000" stroke="#000" stroke-width="0.35" stroke-linejoin="round" text-anchor="start" textLength="26.7" lengthAdjust="spacingAndGlyphs" >10</text>
<path d="M1150.7 624.43H1160.9" stroke="#000" stroke-width="4.1" fill="none"/>
<text x="1131.09" y="631.73" font-size="25" font-weight="normal" fill="#000" stroke="#000" stroke-width="0.35" stroke-linejoin="round" text-anchor="start" textLength="13.35" lengthAdjust="spacingAndGlyphs" >5</text>
<path d="M1150.7 667.8H1160.9" stroke="#000" stroke-width="4.1" fill="none"/>
<text x="1131.09" y="675.1" font-size="25" font-weight="normal" fill="#000" stroke="#000" stroke-width="0.35" stroke-linejoin="round" text-anchor="start" textLength="13.35" lengthAdjust="spacingAndGlyphs" >0</text>
<path d="M1150.7 711.17H1160.9" stroke="#000" stroke-width="4.1" fill="none"/>
<text x="1124.37" y="718.47" font-size="25" font-weight="normal" fill="#000" stroke="#000" stroke-width="0.35" stroke-linejoin="round" text-anchor="start" textLength="21.35" lengthAdjust="spacingAndGlyphs" >-5</text>
<path d="M1258.7 676.7V687.1" stroke="#000" stroke-width="4.1" fill="none"/>
<text x="1248.7" y="709.8" font-size="25" font-weight="normal" fill="#000" stroke="#000" stroke-width="0.35" stroke-linejoin="round" text-anchor="start" textLength="13.35" lengthAdjust="spacingAndGlyphs" >2</text>
<path d="M1356.5 676.7V687.1" stroke="#000" stroke-width="4.1" fill="none"/>
<text x="1346.5" y="709.8" font-size="25" font-weight="normal" fill="#000" stroke="#000" stroke-width="0.35" stroke-linejoin="round" text-anchor="start" textLength="13.35" lengthAdjust="spacingAndGlyphs" >4</text>
<path d="M1454.3 676.7V687.1" stroke="#000" stroke-width="4.1" fill="none"/>
<text x="1444.3" y="709.8" font-size="25" font-weight="normal" fill="#000" stroke="#000" stroke-width="0.35" stroke-linejoin="round" text-anchor="start" textLength="13.35" lengthAdjust="spacingAndGlyphs" >6</text>
<path d="M1552.1 676.7V687.1" stroke="#000" stroke-width="4.1" fill="none"/>
<text x="1542.1" y="709.8" font-size="25" font-weight="normal" fill="#000" stroke="#000" stroke-width="0.35" stroke-linejoin="round" text-anchor="start" textLength="13.35" lengthAdjust="spacingAndGlyphs" >8</text>
<polyline points="1160.9,668.23 1209.8,667.8 1258.7,668.23 1356.5,667.8 1552.1,667.37" fill="none" stroke="#00bf00" stroke-width="4.6" stroke-linejoin="round" stroke-linecap="round"/>
<path d="M1160.9 662.93L1166.5 673.33H1155.3Z" fill="#00bf00"/>
<path d="M1209.8 662.5L1215.4 672.9H1204.2Z" fill="#00bf00"/>
<path d="M1258.7 662.93L1264.3 673.33H1253.1Z" fill="#00bf00"/>
<path d="M1356.5 662.5L1362.1 672.9H1350.9Z" fill="#00bf00"/>
<path d="M1552.1 662.07L1557.7 672.47H1546.5Z" fill="#00bf00"/>
<polyline points="1160.9,668.23 1209.8,667.11 1258.7,667.45 1356.5,666.93 1552.1,670.84" fill="none" stroke="#ff0000" stroke-width="4.6" stroke-linejoin="round" stroke-linecap="round"/>
<rect x="1155.4" y="662.73" width="11" height="11" fill="#ff0000"/>
<rect x="1204.3" y="661.61" width="11" height="11" fill="#ff0000"/>
<rect x="1253.2" y="661.95" width="11" height="11" fill="#ff0000"/>
<rect x="1351.0" y="661.43" width="11" height="11" fill="#ff0000"/>
<rect x="1546.6" y="665.34" width="11" height="11" fill="#ff0000"/>
<polyline points="1160.9,668.23 1209.8,667.11 1258.7,667.63 1356.5,667.37 1552.1,668.23" fill="none" stroke="#0000ff" stroke-width="4.6" stroke-linejoin="round" stroke-linecap="round"/>
<circle cx="1160.9" cy="668.23" r="5.6" fill="#0000ff"/>
<circle cx="1209.8" cy="667.11" r="5.6" fill="#0000ff"/>
<circle cx="1258.7" cy="667.63" r="5.6" fill="#0000ff"/>
<circle cx="1356.5" cy="667.37" r="5.6" fill="#0000ff"/>
<circle cx="1552.1" cy="668.23" r="5.6" fill="#0000ff"/>
<text x="1326.5" y="736.6" font-size="29.5" font-weight="normal" fill="#000" stroke="#000" stroke-width="0.35" stroke-linejoin="round" text-anchor="start" textLength="72" lengthAdjust="spacingAndGlyphs" >Hours</text>
</svg>
</body>
</html>
